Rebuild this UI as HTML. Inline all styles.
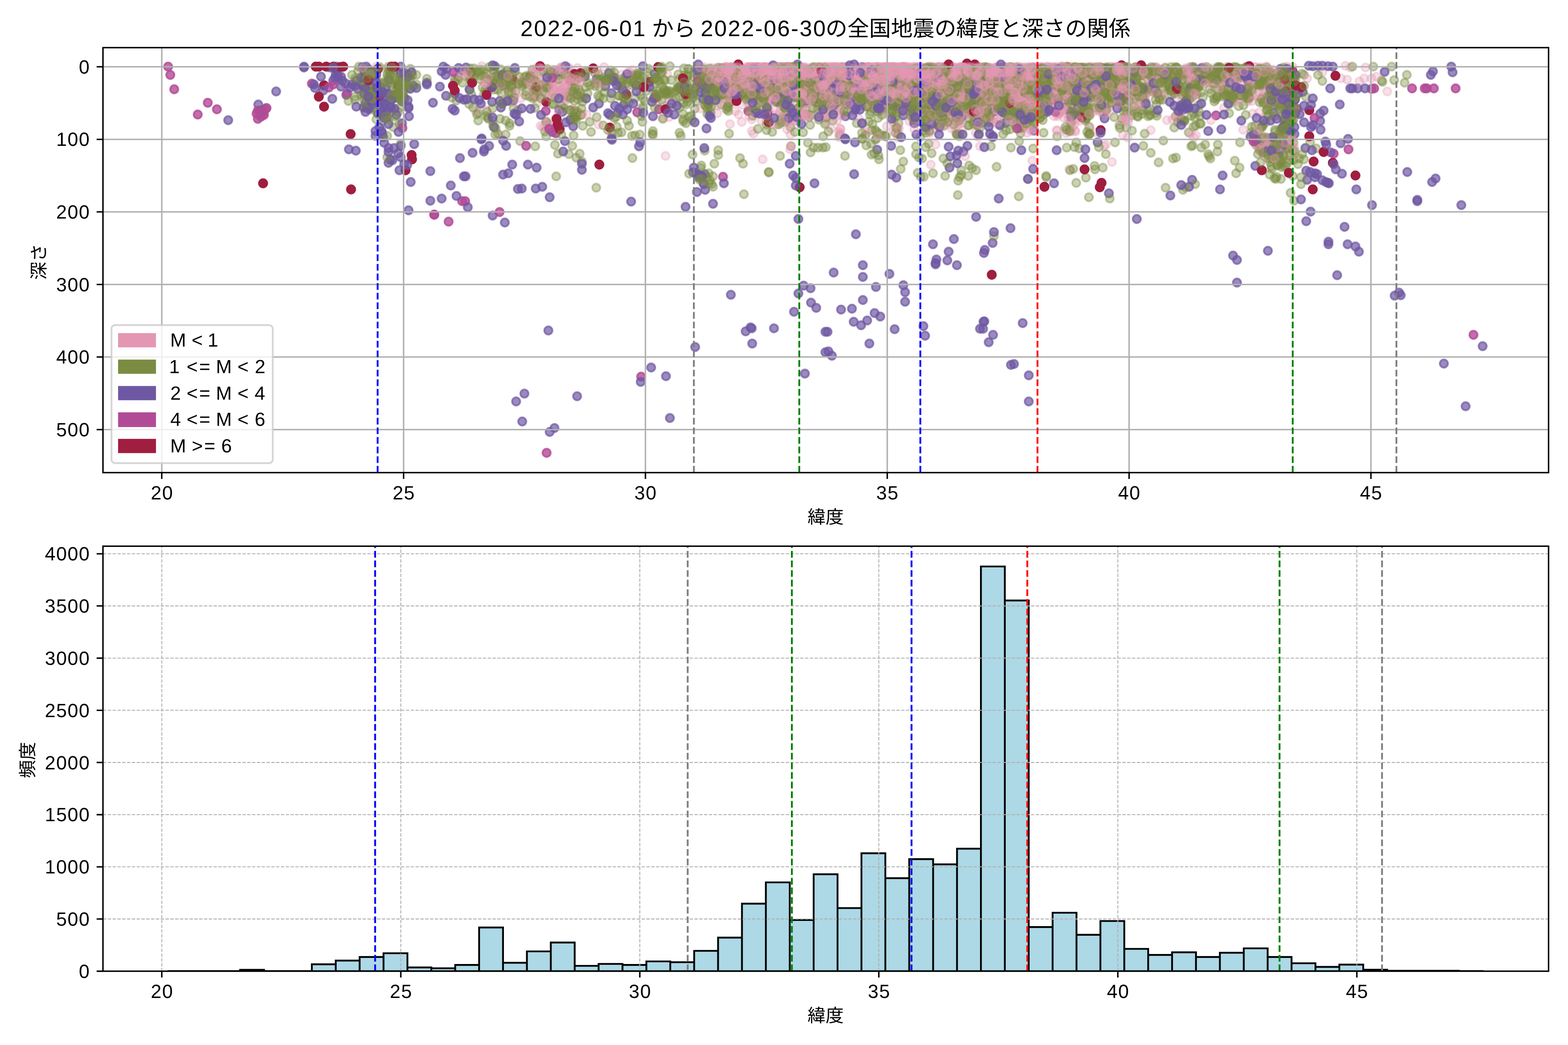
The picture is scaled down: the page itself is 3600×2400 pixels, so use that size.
<!DOCTYPE html>
<html><head><meta charset="utf-8"><title>plot</title>
<style>html,body{margin:0;padding:0;background:#fff}svg{display:block;will-change:transform}text{font-family:"Liberation Sans","Noto Sans CJK JP",sans-serif;fill:#000;text-rendering:geometricPrecision}</style></head><body>
<svg width="3600" height="2400" viewBox="0 0 3600 2400">
<rect width="3600" height="2400" fill="#fff"/>
<defs><clipPath id="c1"><rect x="236.4" y="109.4" width="3319.0" height="976.0500000000001"/></clipPath><clipPath id="c2"><rect x="236.4" y="1254.4" width="3319.0" height="976.0999999999999"/></clipPath></defs>
<g clip-path="url(#c1)">
<defs>
<marker id="kp" markerUnits="userSpaceOnUse" markerWidth="28" markerHeight="28" refX="14" refY="14"><circle cx="14" cy="14" r="9.3" fill="#e497b2" fill-opacity="0.3" stroke="#e497b2" stroke-opacity="0.3" stroke-width="4.17"/></marker>
<marker id="ko" markerUnits="userSpaceOnUse" markerWidth="28" markerHeight="28" refX="14" refY="14"><circle cx="14" cy="14" r="9.3" fill="#7b8c42" fill-opacity="0.4" stroke="#7b8c42" stroke-opacity="0.4" stroke-width="4.17"/></marker>
<marker id="ku" markerUnits="userSpaceOnUse" markerWidth="28" markerHeight="28" refX="14" refY="14"><circle cx="14" cy="14" r="9.3" fill="#6f58a3" fill-opacity="0.7" stroke="#6f58a3" stroke-opacity="0.7" stroke-width="4.17"/></marker>
<marker id="km" markerUnits="userSpaceOnUse" markerWidth="28" markerHeight="28" refX="14" refY="14"><circle cx="14" cy="14" r="9.3" fill="#b24b96" fill-opacity="0.8" stroke="#b24b96" stroke-opacity="0.8" stroke-width="4.17"/></marker>
<marker id="kc" markerUnits="userSpaceOnUse" markerWidth="28" markerHeight="28" refX="14" refY="14"><circle cx="14" cy="14" r="9.3" fill="#a01e40" fill-opacity="1.0" stroke="#a01e40" stroke-opacity="1.0" stroke-width="4.17"/></marker>
</defs>
<g fill="none" stroke="none">
<polyline points="2209,226 949,197 2742,184 1204,904 892,340 1044,254 3070,632 1131,495 1159,511 3296,410 2045,232 2721,236 2374,300 3288,418 3044,418 2882,321 1176,378 1981,636 2882,381 1910,817 1150,247 2260,738 3014,152 1284,252 2945,299 1370,181 1065,405 2490,168 2974,260 1024,220 1829,164 2178,337 1023,172 1673,206 1410,178 1069,405 1678,677 2871,314 1392,182 2321,838 862,301 1804,235 862,312 1044,215 1503,170 2265,168 2167,232 776,180 2687,449 1900,762 2304,225 2965,233 1123,335 1085,351" marker-start="url(#ku)" marker-mid="url(#ku)" marker-end="url(#ku)"/>
<polyline points="1752,222 1178,184 772,158 732,153 1836,430 1309,186 1254,234 2469,158 725,153" marker-start="url(#kc)" marker-mid="url(#kc)" marker-end="url(#kc)"/>
<polyline points="1816,207 1800,160 2052,281 2333,155 2746,311 2073,200 1896,209 2031,172 2255,182 2535,171 2082,164 1813,265 2376,176 2211,220 2433,194 2895,154 2605,212 1224,167 2000,171 2264,168 2441,161 2041,162 2275,181 2632,198 2073,195 2618,160 2134,306 2420,206 2376,214 1866,163 1066,175 2360,187 2312,163 1740,200 1428,171 2038,203 1747,166 1698,164 2477,167 2431,166 2103,189 1623,198 2233,226 2063,194 2169,234 2347,169 2443,160 1927,165 2502,154 1354,162 2160,176 1696,158 2566,154 1960,255 2015,164 2041,202 1952,228 2497,165 1864,208 2560,169 1811,154 2227,215 2454,199 1980,205 1734,188 1729,184 1927,204 2549,175 1885,215 2050,174 2000,163 2576,163 1999,171 2078,208 2025,180 2414,225 2108,160 2382,169 2312,210 1705,201 2224,215 2133,243 2256,163 2258,211 2591,208 2394,200 2305,268 2327,236 1952,226 2216,212 2279,245 2341,160 2160,229 2235,197 2033,166 2443,196 2482,167 2566,158 2298,172 2236,180 2350,182 1829,179 1981,174 2228,179 2104,157 1792,173 2427,183 1833,166 2361,191 2073,154 1832,154 1888,163 2385,188 1754,155 2603,179 1244,218 2372,195 2342,188 2444,217 2325,243 2956,336 2070,208 2287,206 1738,166 1886,162 2206,165 2233,229 1803,269 2015,154 2165,168 2090,191 2272,161 2039,181 2048,161 1858,161 2359,212 2299,194 1674,181 2485,219 1972,179 2083,158 1814,169 2609,183 2318,171 1863,184 2135,170 2359,195 2186,154 1751,205 1859,199 1795,166 1768,189 2366,156 2846,158 1745,207 2662,167 1956,158 1729,195 2079,231 2350,168 1324,180 1777,180 2183,172 1804,163 2483,180 1989,175 2091,163 2101,160 1861,176 2156,225 2047,165 1656,178 2289,184 2144,231 1952,165 2744,155 2896,168 2068,178 1994,171 2304,205 1757,180 2341,170 2525,160 2429,183 1720,163 2006,158 2585,204 2244,204 2029,202 2319,236 1938,163 2035,156 1968,155 1254,281 2032,171 2325,236 1785,164 1944,194 1742,173 2213,180 2121,159 1922,162 1876,202 2071,154 2383,157 2079,166 2558,165 1926,203 2278,223 1916,154 2789,202 1863,214 2090,179 1917,174 2281,182 2331,191 1756,163 2163,237 1758,185 1924,189 1782,162 2022,213 2590,202 1708,175 2515,162 2898,166 2628,214 2147,159 1730,184 2009,167 1717,164 1961,160 1796,232 2003,221 2246,220 1831,234 2418,217 2280,202 1904,154 1699,168 2027,164 2211,170 2423,166 2467,168 2212,252 1290,154 1886,161 2503,171 2050,179 2599,166 2131,257 2914,176 2052,155 1936,199 2140,202 1789,196 1723,190 2472,163 2383,180 2350,277 2321,164 2328,169 2120,216 1648,159 2966,208 1998,201 2148,192 2313,160 2205,190 2072,198 2261,263 1911,183 1968,171 1909,161 2179,179 2108,154 2180,225 1770,170 2311,175 2005,190 2379,223 1772,158 1334,224 1950,216 1663,156 2347,167 1765,204 1823,208 1946,199 1810,167 2240,305 2405,159 1960,211 1119,212 1922,192 1988,213 2648,162 2147,155 2428,164 2084,161 2186,178 2274,172 1894,162 2133,209 2615,164 2340,169 2651,159 1911,161 2325,212 2151,154 2522,171 1994,245 1942,179 2074,154 1698,179 2394,178 1932,177 1695,173 2228,197 2414,165 1852,175 2084,205 2475,180 2158,216 1892,165 1857,182 2072,244 2095,176 2222,203 2380,154 1169,214 2105,175 1819,162 2212,172 2335,210 2169,171 2456,207 1620,172 2251,180 2559,158 2054,189 2245,186 2015,172 2870,226 1778,173 1968,192 1957,242 1835,182 1744,154 2939,166 1811,219 2011,170 2426,214 1696,175 2921,220 2026,160 1787,159 2461,173 2329,162 2141,181 2021,181 1898,161 1929,210 1754,185 2288,192 2594,194 2010,170 2004,200 2591,172 2002,164 2145,167 1726,301 1665,179 1788,192 2144,156 2433,182 2274,170 2201,234 2192,275 2252,201 2369,178 1727,157 2439,159 1387,154 1821,209 1951,181 2806,191 1952,166 2252,203 2002,196 1815,169 1650,182 2371,166 2267,212 2004,161 2122,164 1801,187 1931,177 1911,226 2248,165 2145,166 1668,157 1888,183 2072,228 1881,172 1806,181 2069,177 2011,170 2087,209 1807,277 1718,200 2217,176 1791,259 2122,169 2180,209 1669,173 1841,267 2138,184 2120,168 2179,178 2193,243 1954,161 1626,188 1813,182 2026,156 2432,172 1642,176 1255,200 2016,172 2160,163 2097,182 2538,247 2259,166 2153,186 2058,216 2204,235 1685,157 2287,181 2123,251 2108,163 2335,167 2145,231 1810,155 2709,205 1968,167 2127,206 2095,275 1863,196 2053,185 1751,196 1853,166 2035,168 2013,159 1975,168 2115,175 2150,250 2008,196 2496,171 2556,170 1748,201 1864,167 2072,184 2078,196 1814,161 2022,171 1899,161 2247,164 2227,192 2102,168 2048,220 1764,170 1856,169 2426,158 2930,238 2042,168 2516,169 2134,250 2599,180 1730,155" marker-start="url(#kp)" marker-mid="url(#kp)" marker-end="url(#kp)"/>
<polyline points="2311,252 2082,210 1785,189 1909,190 1806,195 2500,166 2699,154 1842,188 2530,200 2905,185 2543,219 2229,203 2334,284 1981,214 2315,182 2579,175 2903,334 1219,174 1716,220 2304,254 2343,306 2211,184 1912,277 2426,173 2602,191 1867,232 1854,210 1903,204 2094,212 2039,163 2091,199 1848,228 2393,214 2092,203 2285,236 2244,182 2622,173 2958,336 2428,175 1451,172 1961,180 2461,186 2383,222 2425,178 2118,228 2202,233 2178,257 2475,220 2110,183 2305,195 2896,345 2395,166 844,167 1402,181 2390,176 2484,211 1616,169 2351,183 2794,221 2837,207 2607,175 2359,214 2386,163 2492,277 2420,171 2933,214 2676,188 2149,217 2505,192 2604,175 2220,213 2386,192 1135,158 1681,186 2350,194 2324,247 2257,237 1772,154 2265,266 1809,207 2091,213 2016,271 2154,246 1980,284 1325,256 2611,203 2799,163 842,222 2898,292 2386,250 2238,183 2729,304 2259,166 2179,241 2170,205 1809,220 835,217 1256,158 2145,202 2922,201 1936,192 2287,170 2052,228 2398,164 2532,195 2843,178 1908,191 2339,196 2935,173 1907,221 2025,163 1143,206 1515,188 1898,202 2012,204 2699,268 2731,209 1824,204 2928,240 1619,198 2558,166 2929,217 2472,235 1621,164 2410,155 2882,316 2994,172 2103,354 1773,163 2275,222 1204,177 2443,170 2642,179 1624,203 2477,187 1763,204 2744,196 2556,196 2181,236 2311,235 1971,236 2552,167 2247,182 1618,168 2158,155 2155,259 1824,154 2079,194 2075,162 1564,203 2874,203 2306,238 1926,181 2816,174 1216,222 2900,161 2606,159 2256,186 1044,180 2851,164 1594,206 1753,216 2005,189 2091,232 1804,217 2148,163 2159,201 2448,204 2123,169 2856,160 2341,218 1732,200 2466,193 2482,257 2430,165 2479,259 2703,156 2185,161 2894,294 1880,157 2844,210 1603,165 2043,193 1215,175 2371,206 1977,220 2494,272 2130,241 2242,204 2416,176 2557,201 2747,217 929,226 2120,170 2482,180 2941,370 2170,245 2447,173 1486,165 2399,254 900,158 2590,217 2242,170 2459,166 2409,189 2308,260 1166,171 2237,171 1945,208 2475,180 2591,169 2015,160 2006,186 2250,252 2451,197 2815,159 1727,215 1831,204 1791,161 2036,197 1318,214 1684,194 2212,197 2159,252 2400,163 2073,199 2478,219 1659,208 2335,154 2921,175 2865,225 2949,279 1632,184 1886,216 2474,155 2167,195 1686,192 2053,240 1151,192 2150,246 2940,179 2285,218 1938,169 2147,190 2551,186 1747,183 2257,262 2171,185 2271,281 1844,188 2363,218 1878,229 1179,249 1992,212 2256,282 2587,217 1937,204 2394,189 2218,211 2859,156 2463,164 2864,224 2722,242 2131,244 2130,246 2309,166 2936,217 1804,181 2286,248 2221,171 2740,188 1774,172 2182,228 2521,167 2146,178 2628,163 1860,287 1906,196 1595,250 2809,212 1898,217 2289,167 2552,186 2352,180 2154,157 2674,175 2665,164 1936,211 1677,221 1571,207 2297,199 1721,184 2112,178 2289,170 2926,210 1816,187 2282,197 2175,235 2290,169 1626,238 2930,324 2053,237 2924,210 2538,194 2013,212 896,183 2888,328 2387,252" marker-start="url(#ko)" marker-mid="url(#ko)" marker-end="url(#ko)"/>
<polyline points="3096,343 400,205" marker-start="url(#km)" marker-mid="url(#km)" marker-end="url(#km)"/>
<polyline points="1068,462 386,153 2978,250 716,192 454,263" marker-start="url(#km)" marker-mid="url(#km)" marker-end="url(#km)"/>
<polyline points="2961,164 2383,188 2597,163 914,196 1511,154 931,391 1491,188 1082,166" marker-start="url(#kc)" marker-mid="url(#kc)" marker-end="url(#kc)"/>
<polyline points="2420,267 2449,243 2038,196 2163,164 2350,161 2138,211 2266,247 2013,178 2022,210 2245,171 1734,165 2138,162 1733,175 2189,192 2066,193 2279,225 2304,173 2102,167 2582,271 1836,159 2256,243 2166,273 2097,180 1301,159 1917,182 2366,212 2003,192 1738,154 1809,216 1897,282 2039,231 2137,297 2500,197 2116,195 2903,217 1821,194 2596,162 2069,154 2202,178 2720,157 1821,167 2655,154 2175,175 1751,180 2097,165 1821,215 1760,161 1993,172 2052,216 2081,171 2098,180 1734,186 1106,152 2046,210 2306,182 2318,173 2134,203 2880,154 2162,174 2306,219 1829,173 1785,161 2183,189 2458,198 2478,192 2157,295 1809,162 1842,160 2021,183 1963,163 1783,215 2187,215 2015,180 2041,154 2572,165 2286,184 2331,204 2227,169 2340,295 2294,180 1906,201 2280,161 2823,206 1879,168 1915,213 1945,161 1736,194 2245,201 1942,205 2064,183 1917,254 2669,163 1290,221 1840,235 2896,186 2375,228 1981,157 1794,154 1729,213 1696,183 1260,202 2124,257 2595,178 1726,274 2121,165 2573,222 2695,161 1899,154 2273,191 2508,205 1784,176 2383,272 1831,207 2019,162 1686,189 1319,271 1820,156 2400,159 2351,157 2396,223 2797,157 2027,200 2112,175 2017,175 2141,188 2357,194 2066,204 1754,224 2187,183 1275,272 1932,155 1969,173 2006,209 2289,234 2351,159 2194,158 1949,219 2077,186 2361,210 2306,226 864,153 2219,202 1285,198 2195,279 1326,156 2421,230 2372,173 1168,203 2115,175 2186,184 1951,187 1536,269 1993,171 2889,330 2424,175 2301,168 2005,169 2181,228 2338,170 2856,223 1570,214 2597,181 1743,211 2955,321 2303,229 2490,166 2262,225 2331,192 2489,219 2344,230 2136,207 2584,183 2351,155 1955,159 2074,183 1858,166 2018,173 2274,262 1961,210 2011,193 2457,161 2866,193 2358,228 2131,214 2352,201 2140,199 2060,170 2273,166 2314,177 2048,182 2106,245 2122,249 1745,172 1919,177 2109,155 1801,176 1831,205 2460,165 2076,202 2553,372 2414,155 1929,265 2274,246 2022,248 2007,164 2029,178 2516,168 2365,236 2100,166 2250,154 2442,155 2141,171 2522,188 2350,161 1970,171 2368,207 2216,252 2518,252 2835,172 1700,161 2417,163 1999,161 1959,173 1841,217 2323,164 2075,154 2275,168 2134,175 2151,164 2466,206 2047,242 2457,162 1773,212 2199,230 2418,179 2847,158 2011,158 2158,156 1853,183 1810,208 2254,176 2319,210 2128,165 2117,164 2254,203 2279,212 2050,154 1726,166 2572,226 2245,163 2061,172 2335,231 2263,189 2339,202 2535,336 2084,219 1806,162 1899,168 2457,200 2319,216 2097,271 2150,181 2743,162 2495,156 1874,178 1759,277 2804,175 1888,177 1946,163 2034,169 1165,204 1947,175 1747,164 2000,180 2355,184 2321,246 1846,156 2339,199 2469,302 1941,188 1903,192 2177,223 1638,169 1699,199 1854,173 1753,158 2238,182 1256,194 2650,164 1793,182 2215,196 1528,358 2353,176 2263,156 1863,159 1661,193 2811,181 1690,166 2065,215 2952,165 2246,208 1937,169 2435,159 2000,164 1815,186 2810,248 1939,249 2245,314 1878,185 1920,212 2392,154 2444,173 2681,179 1944,178 1730,174 2519,213 2785,180 2389,163 1737,160 1803,238 2022,202 2076,196 2353,169 1963,164 2346,195 1897,163 2117,155 1957,166 2321,194 2336,161 1785,196 1767,186 1755,159 1796,197 2110,154 2245,179 1700,166 2151,243 2130,211 2078,213 2349,193 1895,271 2447,162 2864,233 2078,223 1799,166 1709,164 2638,166 1911,268 2228,161 2845,179 2335,212 1833,157 2442,155 2400,159 2565,154 1982,210 2355,164 1871,158 2313,157 2328,179 1901,178 2114,215 1869,177 1297,220 1848,252 1273,160 1248,210 2225,168 2599,201 2289,223 2034,164 2059,161 2195,186 1782,155 2217,241 1935,154 2109,204 1700,178 2036,229 1963,207 1798,176 2359,169 1117,253 2514,160 2465,174 2288,202 1323,196 1863,219 2001,172 1755,161 1927,158 1988,200 1942,157 2226,167 2327,211 2108,172 2307,175 2347,208 2088,191 2265,203 1303,184 2312,181 2125,170 1869,159 1924,172 2349,171 1932,194 2095,235 2532,173 1775,199 1738,183 1228,220 1971,202 1789,183 2232,178 2288,159 2041,167 2541,234 2189,236 1311,222 1730,307 1196,226 2697,196 2888,167 2088,214 2569,154 2192,180 1945,208 1803,195 2192,198 2012,154 2917,163 1826,173 2265,219 1762,204 2431,163 2801,186 1730,176 2074,176 2450,188 1733,190 2340,183 2025,174 1684,189 2102,189" marker-start="url(#kp)" marker-mid="url(#kp)" marker-end="url(#kp)"/>
<polyline points="1983,203 2145,233 2994,281 1325,910 1153,238 2710,247 1693,188 3067,389 3117,203 2164,236 1230,433 2958,246 1941,267 2236,204 2831,587 936,171 3031,261 1966,193 1618,400 2400,180 2405,205 2169,235 905,340 2180,385 2309,282 1136,152 863,225 1018,153 3009,486 2991,211 928,168 2259,188 2848,173 3005,151 1155,401 3039,254 1404,214 1619,436 1070,155 2405,239 758,155 1861,193 2187,226 1131,150 2210,198 1162,335 850,248 1780,199 1178,231 1476,152 873,200 1801,223 852,243 1147,232 2293,456 2352,234 2958,238 2279,558 1730,180 938,245 2865,215 1106,318 1813,213 2935,317" marker-start="url(#ku)" marker-mid="url(#ku)" marker-end="url(#ku)"/>
<polyline points="2561,157 1826,175 2154,255 1766,203 2355,198 2607,155 2607,184 1896,338 859,167 2146,202 2961,186 2503,171 1898,220 2908,316 2649,212 2399,156 1370,269 1121,183 2475,240 1857,180 1795,194 1630,181 2502,200 1818,163 2618,169 2501,187 2811,204 2700,171 920,330 2290,226 2281,191 2119,213 2195,244 2810,179 2018,212 2064,237 2040,197 2572,236 2434,206 1691,206 2338,258 2584,154 2169,229 1582,268 2058,230 1653,221 815,229 2558,199 2650,198 2110,362 2138,157 1082,185 2360,174 2378,198 2327,248 2296,226 2103,336 2221,208 1966,192 2861,154 1810,228 2642,351 2345,186 2473,203 1898,269 1677,190 2385,185 2927,298 2953,242 1406,182 1959,199 2828,225 2741,201 2932,380 2295,227 2483,159 2121,245 870,207 2183,203 1138,294 1905,179 1983,202 1998,171 1354,280 2134,181 2013,215 2027,194 2963,314 2591,202 1824,220 2578,167 2593,205 2050,214 1994,154 1880,275 1961,193 2366,192 1327,228 2182,213 1615,160 2432,208 1991,180 2927,344 2684,164 2032,313 1967,183 2008,205 2337,177 2356,217 2263,211 2085,214 2134,178 1973,213 1805,166 2283,232 2350,182 2483,180 2081,218 1317,255 2054,201 2566,204 1913,213 1847,209 1921,174 2214,194 1170,283 2566,169 2000,207 1151,214 2119,237 2661,225 2032,179 2249,197 2601,198 2745,289 2389,171 2413,208 1077,239 2489,174 2953,285 2107,189 2225,272 1945,224 2234,193 1899,192 2945,177 1504,218 2385,213 2512,203 2401,182 2376,251 1890,313 1760,206 2055,218 1297,218 2382,200 2438,166 1367,193 2937,211 1647,187 2430,158 2247,246 2106,269 1580,158 2881,290 1737,196 1579,173 2900,234 1795,168 1827,203 1242,166 1911,214 1866,191 2731,193 2238,157 1747,197 2194,226 2118,170 2212,235 2242,252 1973,188 1602,185 2235,258 913,190 2504,176 2520,195 1320,254 1798,198 1895,208 2743,270 2653,209 2063,283 1613,169 2274,166 2214,203 2739,154 2690,209 1928,310 2002,202 2480,172 2347,192 1734,180 2225,380 2207,187 2003,201 2012,217 2942,384 1637,405 2091,234 2306,199 1910,167 2946,187 928,228 2564,158 1557,201 2351,174 1475,246 2247,250 2049,179 2055,240 1318,175 2107,194 2541,201 2248,247 2237,225 2253,215 1621,244 1746,208 2065,232 2330,174 2559,166 1755,188 2534,216 2189,241 2190,232 1919,191 2860,162 2372,341 2353,202 2606,225 1799,199 1991,194 2140,240 2237,269 1928,214 2725,219 2338,250 1631,180 2274,166 1997,225 2448,187 1427,198 928,225 2168,212 1131,184 1798,196 2064,175 1866,211 1774,192 2050,213 2509,186 2461,264 2348,224 1897,210 2166,162 2851,167 1820,174 1953,180 1676,199 2162,228 2229,225 2100,218 2254,180 2338,227 2611,174 1894,285 2905,170 1781,217 2056,195 2855,242 2064,222 2317,230 1979,177 1872,193 2037,212 1322,268 2339,198 2890,326 2010,194 1974,176 2154,166 2341,294 2570,176 1988,160 1162,196 2001,231 2583,224 2564,196 1444,289 2255,200 1824,186 2120,195 1584,204 2712,245 1192,176 1262,172 2363,274 1169,212 2156,231 2830,155 1062,190 1559,204 2621,164 2178,242 1794,171 2322,194 2442,160 2534,187 1918,196 2402,178 2560,327 2934,233 1799,176 1444,235 2952,381 1506,180 2012,318 2132,237 2321,339" marker-start="url(#ko)" marker-mid="url(#ko)" marker-end="url(#ko)"/>
<polyline points="1061,462 391,172 605,259 477,236 3062,353 3383,769" marker-start="url(#km)" marker-mid="url(#km)" marker-end="url(#km)"/>
<polyline points="2230,210 2494,203 920,361 2412,206 1375,238 1974,168 994,236 1960,739 818,185 524,276 1751,184 2939,238 795,218 906,225 2167,222 2873,177 2297,189 843,170 1432,241 2485,207 980,190 2253,178 2065,181 892,183 2961,228 2105,190 2128,292 2490,363 1726,226 2481,159 2626,158 771,169 2297,219 3315,835 2345,345 2367,236 1697,211 1449,463 1954,167 1968,193 2341,233 2952,191 836,215 2257,250 1813,376 2478,244 878,307 1343,176 2258,739 923,233 1198,433 1440,251 2242,209 1398,168 3212,672 1602,400 888,270 2422,213 878,257 3332,153 1105,320 1712,761 841,153 2014,344" marker-start="url(#ku)" marker-mid="url(#ku)" marker-end="url(#ku)"/>
<polyline points="2427,313 2004,208 2159,243 2031,189 2548,213 2826,157 2180,188 2070,175 1673,157 1783,209 2887,316 2379,189 1699,363 2792,191 2188,246 2118,200 1184,209 1697,205 2277,229 2321,255 2387,190 1174,213 2108,191 2369,215 2317,170 2737,168 2098,206 1724,216 858,163 2153,198 1726,205 2260,165 2115,262 2157,236 2940,377 2215,210 2279,165 2202,203 1614,420 2306,224 2002,176 2324,182 1676,237 857,201 2933,379 2007,207 2259,199 2053,193 1699,167 2182,234 1598,233 1155,176 2844,244 2095,215 2363,161 2375,252 2667,175 2176,257 2058,208 1836,217 1862,202 2365,286 1080,182 2284,223 2181,222 2019,186 2450,154 2128,257 2573,154 2902,196 1695,199 2084,230 2370,190 2379,253 1560,247 2389,200 2353,164 1747,212 2203,313 1615,170 1871,194 1688,208 2265,176 1936,177 2963,267 1940,165 2735,154 2503,165 2137,200 2585,194 1691,195 2767,332 2442,166 1938,190 2607,155 2370,208 1890,215 2175,375 2961,179 2471,191 2159,288 2149,234 2115,186 2360,205 2211,239 2054,219 2834,178 2286,172 2548,204 2154,156 2592,190 2621,201 2010,181 921,230 1869,198 2774,354 2112,218 2188,272 870,198 2856,173 2057,243 1949,183 2130,154 2170,404 2398,212 2468,176 2170,192 1277,405 2899,352 2040,240 1048,231 2418,176 2207,402 1647,170 1627,239 1655,200 2025,211 1751,191 1274,333 2142,187 1979,219 2109,241 2700,158 1973,170 2951,179 1608,172 1844,199 2651,155 2306,214 1176,170 1754,154 2351,246 2377,182 1627,398 1444,196 1807,220 1626,242 837,174 2915,237 1595,202 1699,203 1823,196 1820,190 2889,172 2671,323 1718,185 2009,193 1131,277 2185,205 1821,206 2323,217 1824,223 1117,169 2714,219 2053,210 2252,282 1163,163 2236,172 2796,160 1939,211 2193,165 2815,170 2355,216 1474,193 1292,212 1879,194 2419,165 2053,184 2339,451 1625,180 2685,201 1904,204 1830,196 2693,364 1848,238 2230,214 2706,195 2362,195 2170,239 2069,176 2228,260 2271,156 1590,355 2471,420 2052,226 1718,209 2125,305 2472,173 917,247 2899,158 2350,196 2454,179 1747,187 2513,381 2151,169 2490,273 2276,229 2579,195 2149,194 1153,192 1268,168 2255,240 2796,154 2471,225 2013,303 1569,237 2148,230 1170,232 2134,236 2105,220 927,221 1660,168 1088,157 2596,195 2539,167 2405,181 2548,159 1577,218 2248,212 2217,236 923,227 903,201 1180,192 2566,158 2727,215 1729,171 2122,244 873,199 1815,292 1695,173 2427,209 2123,206 2413,175 1622,173 1606,165 2808,222 2696,293 2246,255 1252,189 2482,210 1671,247 2434,189 2184,241 1644,218 2551,198 3201,184 2740,291 1111,217 2267,181 1693,197 2970,275 1717,183 2143,260 2117,364 2232,252 2376,197 2254,193 824,153 1515,161 2218,198 2919,341 1791,172 2253,181 2044,181 1913,187 1312,202 2212,221 1994,155 1906,184 1935,217 1989,219 2407,249 2786,192 1787,230 1635,168 1795,269 2209,232 2952,232 1935,193 2502,200 2064,169 2271,190 2355,241 1765,230 1844,304 2951,338 2318,238 2647,171 2098,187 2891,158 2147,217 2941,411 1752,187 2431,260" marker-start="url(#ko)" marker-mid="url(#ko)" marker-end="url(#ko)"/>
<polyline points="3112,403 1765,178 2366,204" marker-start="url(#kc)" marker-mid="url(#kc)" marker-end="url(#kc)"/>
<polyline points="2119,221 2531,155 1893,153 2851,221 2484,173 2465,162 1786,154 1724,185 1906,164 2122,167 2168,173 1984,158 2242,249 1819,154 2185,295 2136,154 2474,201 2093,249 1802,155 2325,272 2195,176 2337,169 1698,179 2508,170 2293,169 2032,223 1291,207 2410,177 2267,228 1646,166 2337,163 2314,167 1869,251 1895,164 2034,242 2098,236 2016,154 1757,189 1233,155 2120,235 1808,206 2120,168 2312,175 1865,192 1796,199 1939,168 2281,186 2308,160 1718,188 1953,198 1765,171 2337,224 2361,183 2194,210 2161,179 1674,199 1715,205 2020,202 2024,165 2533,229 2606,167 1835,171 2067,184 2144,165 2088,189 2172,187 2015,172 2563,211 2339,264 1951,207 2021,216 1767,171 2166,178 2047,154 2464,167 2393,195 1788,154 1902,189 2007,169 2765,189 1674,202 1964,200 1843,263 1825,209 2083,238 2109,173 2329,175 2037,154 2165,255 2483,202 2202,285 1705,159 1756,189 2001,181 2762,184 2128,206 2078,165 2132,198 2042,168 2069,183 1699,168 2584,168 1289,204 2196,213 1934,183 2025,161 2867,183 2181,243 2333,210 2237,187 2300,174 1251,291 2437,255 2798,173 1902,222 2023,219 2220,235 1926,222 2053,189 2308,200 2099,177 1992,154 1941,209 2354,202 2059,171 2224,180 1809,188 2297,205 1843,179 2437,224 1860,170 1939,189 2004,176 1289,163 2155,156 1780,172 1814,221 2088,170 1910,154 2467,224 2124,171 2047,159 1782,170 2023,187 2291,178 2589,154 2360,216 2032,179 2328,204 2894,328 2250,160 2830,221 2080,154 2299,209 1990,186 1763,252 2155,216 2541,174 2086,195 1841,225 1693,182 1812,193 2098,204 1278,210 1800,170 1793,162 1682,168 1806,170 1785,218 2322,212 2459,165 2202,180 2444,171 2248,159 2055,203 2189,174 2590,191 1842,251 2373,239 2381,246 2041,155 1925,193 2092,166 2477,265 2077,215 1805,162 2213,169 2199,198 2378,162 2221,202 1976,226 1852,188 1999,201 2055,168 1913,178 2506,178 2081,187 2448,306 1213,190 2561,194 2011,195 1958,197 2959,177 1719,211 2361,212 2191,239 2225,168 2074,160 1783,171 2446,167 2206,178 2143,172 1737,161 1987,155 1726,176 2427,185 2164,237 2243,209 2706,169 2316,171 2421,173 1898,174 2020,166 2627,164 1650,197 1930,297 2285,210 2384,222 2164,160 1928,228 2184,250 2260,175 2052,228 1947,154 1683,182 1860,216 1976,158 2477,234 2051,212 2136,167 2227,243 2246,160 1706,163 2533,176 1917,168 2220,181 1921,162 2327,161 2075,169 2267,180 1886,173 2445,167 2016,166 2011,165 1825,154 2112,171 2050,193 2144,164 1674,167 2088,192 2167,180 2253,155 2014,173 2271,175 2373,231 2383,230 1808,208 2953,231 2321,156 1715,167 2555,209 1813,238 2087,189 1640,173 1785,160 1808,185 1763,168 2281,280 1752,198 2453,156 1705,170 2459,162 1772,164 1995,196 2079,167 2166,180 2536,169 1898,163 1804,156 2035,188 1875,207 1852,171 2113,226 2269,170 2262,181 1782,178 2164,189 2349,181 2227,195 2440,162 2567,171 1773,219 1709,210 1842,217 2011,176 1768,160 2546,179 2958,281 1964,174 1745,156 1943,158 2336,274 1836,189 2278,176 2079,228 2370,159 1706,200 1639,164 2004,177 2905,267 1936,162 1782,198 1756,177 1259,286 2338,171 2632,161 1875,205 2054,170 2118,177 1961,223 1725,202 2374,186 2354,169 2708,270 2904,210 2018,163 1929,202 3121,187 1635,161 1793,154 2588,154 2055,161 1925,176 1734,164 2223,185 2293,167 2145,169 2728,178 2486,164 2587,260 2281,214 2263,216 2319,164 2095,181 2343,185 1294,240 2075,164 2881,310 2151,172 2494,155 1934,165 1662,176 1739,176 2134,191 1967,170 2007,185 2005,168 1798,168 1890,162 2297,214 2195,211 2208,171 1752,166 2029,164 1750,163 2360,201 1942,173 2023,213 1748,170 1734,168 1966,194 2488,221 2035,188 1942,206 1884,219 1746,222 1898,174 2468,220 2564,180 2296,236 1893,176 2107,190 1626,179 1752,224 1985,155 2266,203 2518,171 1868,172 1717,163 2463,190 2369,244 2036,154 1987,246 1812,188 1679,189 2123,177 2045,269 1888,169 1996,217 2370,155 1933,200 2340,174 2033,154 1903,173 2012,226 2535,173 1787,200 2000,165 2517,304 1235,215 1717,154 2484,161 2190,271 1769,212 2026,227 1966,154 2758,169 2289,207 2090,172 885,255 2308,203 2133,172 1779,159 2765,154 1802,164 2595,208 2280,179 2605,261 2319,163 2025,198 2106,248 1714,154 2004,169 2458,154 2239,167 2227,192 1776,162 2297,177 1754,165 2347,212 2300,154 1756,166 2303,212 1630,168 2237,185 2238,169 2724,248 2033,154 1670,188 1784,173 1918,247 2416,179 2465,275 2268,244 2148,255" marker-start="url(#kp)" marker-mid="url(#kp)" marker-end="url(#kp)"/>
<polyline points="1400,293 2575,150 2905,172 2918,193 806,435 1362,157" marker-start="url(#kc)" marker-mid="url(#kc)" marker-end="url(#kc)"/>
<polyline points="1970,214 2383,223 1791,155 1732,169 1903,164 2289,178 2155,240 1820,160 1840,165 1905,166 3149,180 1903,167 2437,193 2184,180 1757,167 2228,173 2103,210 2076,166 2314,173 2229,155 1899,174 2128,196 1735,157 2046,181 1892,169 1720,169 1731,160 1324,184 2268,174 1922,197 2232,211 1679,154 2107,259 1916,196 1786,162 2745,169 2578,162 2308,179 1846,165 2596,257 2883,154 1735,168 2417,170 1979,200 1657,176 2028,168 1669,164 2536,160 2480,166 2288,155 1937,163 1310,222 2349,188 1929,166 2314,160 2483,167 2120,251 2006,179 1813,193 2470,162 1940,163 2101,210 2762,187 2066,225 2208,154 1736,155 2073,199 1996,171 2106,186 2604,181 2639,178 2071,166 2068,178 1923,160 2291,175 2031,167 2948,175 1954,161 1700,212 1789,161 2210,188 2217,189 2353,168 2844,232 1826,274 1696,263 1990,166 2397,181 2319,250 2592,190 1313,224 2306,212 2115,177 2055,179 1711,164 2955,302 2206,155 1959,173 2115,217 1234,236 1874,162 1665,208 2359,158 1994,172 1299,231 1649,182 1936,159 2348,177 1945,177 1978,171 2043,209 1821,156 2140,173 2186,178 2015,180 1809,161 2704,161 1805,207 1819,154 1762,230 2136,175 1940,183 1648,166 1918,175 1985,205 2130,256 2037,235 2208,220 2247,171 1767,189 1953,156 1870,189 2860,161 1821,164 2679,276 1791,194 2113,158 2192,209 1932,175 1898,230 1862,199 2022,163 2073,185 2735,197 2195,306 2007,166 1729,156 2332,243 2152,164 1908,197 2109,167 1851,158 1815,161 2138,195 2337,237 1687,165 2049,172 2943,328 1997,160 2440,162 2088,177 1748,171 2602,174 2099,159 2307,234 2445,248 2291,286 1698,156 1688,255 2812,182 2061,163 2044,175 1831,161 2437,210 1829,154 3135,155 2040,178 2125,187 2089,166 2020,156 2121,174 1773,158 2564,193 2073,154 1698,184 2448,160 2147,204 2019,183 2125,157 906,155 2170,170 2036,200 1305,156 1730,163 1991,205 1837,165 2132,194 1812,166 1706,198 2053,207 2348,161 2461,157 1769,188 2667,171 1959,175 2148,199 1737,155 2009,220 2121,160 2224,164 2056,168 1966,171 2106,178 2057,160 2209,162 1823,176 2890,226 2219,182 1667,160 1734,196 2055,155 2562,213 2692,169 1319,184 2114,170 2282,267 1771,174 1720,201 1738,163 1731,155 2261,166 2125,170 2443,164 1844,180 1667,178 2364,206 2103,154 2120,164 1898,193 1889,180 1908,295 1804,211 1759,202 1898,235 2191,160 2928,321 2230,164 2010,163 1930,168 2362,170 1944,156 2082,165 2478,166 2603,224 1738,185 1699,155 2444,160 2274,189 2220,171 2568,237 1673,173 2642,299 1724,195 1923,198 2122,173 2170,183 1807,174 1967,164 1813,190 2022,216 1840,170 1990,160 2143,190 1241,289 2333,157 2299,163 2267,226 1918,167 2468,161 2273,210 2238,172 1303,184 2217,156 1980,165 2586,239 1981,213 2301,184 2136,191 1825,164 2390,155 2012,174 1732,210 2104,208 2168,188 2546,167 2773,178 2131,177 2363,171 2387,167 2439,201 2359,216 1790,175 2200,197 1907,154 2165,256 2401,243 2080,173 2228,162 2247,177 2220,196 2054,179 2155,175 2463,233 2284,183 1756,176 2359,179 2257,234 2173,159 2510,158 1948,220 2436,221 2930,213 2654,163 1521,242 1786,154 1942,219 2797,169 3132,180 2104,216 1853,173 2237,196 2158,209 2290,172 2273,185 2237,172 2341,200 1754,181 1741,164 2021,173 2282,189 2416,170 2735,169 1900,165 1824,163 1679,203 1723,197 1847,191 2106,166 2238,180 2426,164 1780,154 2557,209 1896,211 1829,204 2230,181 2178,201 2269,169 1864,169 2007,163 2037,157 2306,158 1705,173 2964,335 1854,168 2449,176 2017,158 2273,229 1958,156 2915,183 2361,156 2123,166 2226,198 1792,251 2001,203 2020,212 2334,190 2414,206 2143,221 2562,162 1973,165 2276,177 2589,316 1696,190 1907,205 2002,246 2213,160 2211,180 1614,175 1892,172 2028,157 1671,175 2155,215 2241,213 2066,156 2414,160 2304,162 2269,256 1732,174 2436,162 1906,239 2391,196 2255,168 2563,155 1649,166 2797,179 2063,169 2935,191 2167,209 1890,171 2051,205 2207,226 2001,205 2254,156 1725,211 2017,176 2035,185 1798,162 2289,154 2573,210 1701,163 3185,210 2313,155 2114,209 1969,168 2213,168 2354,171 2033,203 1938,220 2607,154 1830,219 2304,157 2216,243 1988,175 2114,159 2300,181 2239,171 2138,154 2454,154" marker-start="url(#kp)" marker-mid="url(#kp)" marker-end="url(#kp)"/>
<polyline points="2233,159 2395,177 2419,215 914,257 2558,269 2149,285 2530,160 1765,156 1152,196 2290,194 2939,325 2129,279 2216,243 1706,190 2292,241 837,175 2243,194 942,180 1898,159 2135,235 2095,236 2628,233 1643,220 2073,181 2134,171 918,182 1745,226 2451,186 1499,200 1653,217 2313,221 2196,177 1875,227 1451,312 2701,155 2251,239 1655,218 2007,194 1089,177 1622,200 1536,208 2366,224 2611,267 1765,196 2758,212 2015,217 1808,276 2235,196 2968,229 2482,156 2660,373 2366,180 2768,179 2502,265 2299,164 2231,166 2051,210 1725,178 2905,171 1820,214 1226,205 2199,448 2948,321 1808,199 2509,194 2755,266 2216,230 2445,178 2484,164 2517,212 1888,196 2450,218 2413,193 1337,234 2639,199 2362,205 1676,164 2513,223 2798,162 2522,171 2489,193 2165,271 2373,259 1161,277 1530,214 2173,204 1147,191 2121,187 1323,362 2051,221 2251,168 2009,180 2278,189 2834,154 2124,191 1992,244 2830,219 2463,173 2253,166 889,178 2026,209 2971,461 849,234 2592,202 2747,184 2895,174 2380,168 2217,216 1475,175 1908,220 2203,307 2460,182 2475,184 2520,192 2364,215 1670,190 2561,183 2741,212 2474,156 1903,217 1727,163 2907,163 1660,179 2270,217 2176,209 1786,162 1804,199 2802,163 2006,195 2461,159 2451,164 1774,160 1623,407 1885,226 2041,231 2060,202 2167,194 2781,161 2940,346 2400,172 2251,183 1655,205 2788,169 2231,189 2445,219 2131,245 1462,174 2282,181 2014,162 2074,223 1861,350 2057,266 2506,157 2130,207 1254,313 2170,214 2488,164 1173,175 1698,191 2482,206 2358,211 2945,303 2237,201 2939,373 1933,154 1827,223 2143,231 2383,265 1665,204 1324,267 1954,194 2566,171 2989,169 1612,163 2674,200 2000,330 1882,187 1217,181 2091,230 2330,219 1901,175 2800,172 2193,167 1303,222 1806,201 1505,221 2187,256 2510,168 2149,254 2293,212 1810,207 2551,186 1668,221 2453,217 2708,255 2279,207 2432,186 2539,159 933,197 897,192 2246,197 1833,187 1951,192 2559,167 2427,169 2110,207 2891,158 2550,188 2263,163 1933,208 2111,221 1899,173 2200,217 1814,211 2471,327 924,178 2081,166 2081,195 2328,245 833,196 2010,202 1624,262 2339,233 2469,179 1457,226 1933,234 2599,254 2713,212 867,212 2250,201 1997,263 2401,202 1997,206 2152,209 2438,191 2052,231 2563,219 2332,264 2243,207 2224,201 2645,163 2320,201 1989,334 1809,194 2011,160 2947,382 2328,249 1943,227 1096,166 2268,255 909,217 2948,326 2045,235 1818,154 1774,164 2402,180 1910,221 2555,172 1815,204 2347,294 2001,185 2001,355 1777,202 1160,176 2431,170 1289,243 2770,160 2398,203 2573,186 2246,154 2455,180 2343,169 2604,192 2149,266 2121,185 1900,173 2527,195 2417,169 2116,217 2601,165 2335,174 2719,279 2446,204 914,215 2184,198 2421,165 1952,211 1791,223 1842,200 2147,189 2552,236 1740,296 2124,276 1830,222 2921,189 2346,216 2243,166 2341,227 1890,186 2234,221 1816,336 2372,164 1967,213 1954,178 2562,171 2043,200 2617,221 2460,177 2291,202 1580,211 2581,190 1200,198 2203,407 2157,219 2212,221 1499,301 2314,188 2382,194 2980,377 2097,166 2680,165 2310,187 1648,206 2438,153 2376,186 2356,205 1932,174 2951,174 2326,240 1078,204 1484,209 2682,188 1779,203 1834,200" marker-start="url(#ko)" marker-mid="url(#ko)" marker-end="url(#ko)"/>
<polyline points="2303,222 2008,719 882,225 3179,165 864,171 923,283 3019,398 763,227 772,153 3081,399 1614,227 2197,609 1827,409 3060,153 1454,238 1941,320 1167,398 2240,233 917,391 1739,155 2300,219 2030,168 2182,359 1797,200 1291,257 3365,933 2924,259 2021,727 839,237 2987,458 801,343 2248,191 3049,420 3055,350 1694,194 1718,165 2328,836 837,163 2435,179 843,243 850,211 1827,358 1316,290 2294,161 2250,755 2162,239 2940,158 1268,303 3355,471 2241,214 2279,315 1742,198 3114,435 1262,453 2254,182 904,219 2074,265 1789,222 1850,232 1872,174 1199,968 1732,195 1134,292 2074,655 1430,263 2375,218 1616,423 1501,226 2946,204 1862,187 1596,797" marker-start="url(#ku)" marker-mid="url(#ku)" marker-end="url(#ku)"/>
<polyline points="1513,251 1218,176 3342,203" marker-start="url(#km)" marker-mid="url(#km)" marker-end="url(#km)"/>
<polyline points="2792,265 1147,487 603,254 1718,255" marker-start="url(#km)" marker-mid="url(#km)" marker-end="url(#km)"/>
<polyline points="2072,254 2953,178 2606,188 2472,199 2475,156 1774,204 1626,238 1754,167 2330,287 1812,194 2368,186 2031,191 2308,192 2277,216 2691,176 2469,198 2682,169 925,211 834,177 2551,209 2125,338 2523,159 2691,207 1734,171 2391,175 2260,176 1739,229 2162,180 2469,183 2104,203 2506,186 2093,240 2666,179 2041,196 2014,163 1803,273 1338,289 2912,184 2164,217 867,235 2002,299 1772,184 2604,245 2970,243 1668,156 2949,334 2046,224 1349,214 2833,200 924,182 2316,231 2340,169 1253,215 1710,215 2547,175 2016,194 1787,170 1225,199 2351,212 2351,277 2241,391 1817,200 2915,401 2232,219 2427,186 2459,189 2121,406 2133,246 2589,186 1148,273 1881,210 2303,308 1385,288 2058,166 1627,238 1997,199 2167,191 1689,201 2884,333 2864,219 2002,172 2550,173 2539,354 1663,186 2869,183 2054,271 1612,166 2057,212 2493,408 2575,184 2742,203 2260,189 2431,192 2492,265 2271,177 2540,158 2389,177 2183,215 2892,175 2490,258 2501,291 2215,199 1327,217 2532,225 2558,189 931,187 1989,189 815,222 1849,168 1869,228 2209,212 2086,226 1422,220 2498,159 2107,397 2208,224 2304,234 1997,197 1632,261 2492,220 1795,200 2329,249 2128,235 2959,339 1780,189 2435,210 1682,209 2267,237 2254,192 2341,220 2594,232 2556,163 2139,219 2533,262 1512,185 2117,180 2469,193 2600,168 2201,203 1916,232 2331,200 909,161 1713,201 2175,202 2219,177 2634,212 1809,163 1862,224 2927,207 1112,175 1219,176 2912,345 2524,183 2232,206 2221,172 1538,152 2156,224 1719,176 2346,201 1890,194 1858,212 2140,228 2316,224 2576,272 2443,207 2215,173 2397,263 1037,224 920,208 1977,217 1991,177 2461,171 2033,240 2429,197 2570,288 2640,251 2348,169 2134,246 1674,236 2181,254 2042,243 2054,230 2201,247 1566,208 2253,167 2057,214 1904,183 1813,196 1631,256 2008,179 2742,159 2232,164 2224,205 2260,216 2715,276 2337,231 1763,189 1941,179 924,215 2164,280 1295,249 1857,190 903,292 2188,205 1890,214 1644,184 924,177 2593,174 2602,196 2508,200 1954,173 2052,212 2160,207 2548,172 2283,226 2973,195 2054,196 2820,154 2115,210 1343,169 1791,171 1527,185 1935,161 2407,185 1165,162 2263,257 2160,186 2946,190 2249,295 1539,211 2637,255 2049,256 2813,190 917,285 1319,232 892,153 2270,231 1269,240 2002,169 2561,224 2185,163 1670,219 2284,175 1828,195 2364,267 2155,251 2564,199 2311,162 2947,155 2272,265 1573,207 1227,222 1318,268 1706,376 1804,251 2154,230 1385,226 2290,170 1980,197 1940,358 1931,225 2667,219 1927,211 2256,166 1559,204 2961,368 1967,283 2094,219 2309,208 2345,178 2208,198 2563,160 2536,178 1703,194 2779,179 2245,166 2899,341 2899,192 980,181 2144,169 2568,165 1164,190 947,173 1826,208 2320,154 1796,197 1730,189 2646,167 2311,160 2191,221 1396,299 2004,193 1592,176 2724,173 1831,216 1995,167 2168,187 2410,177 897,162 2461,159 2798,173 1619,231 1809,181 2603,208 1595,214 2205,235 1306,354 2540,230 1739,195 2625,171 2727,195 1905,216 1919,196 2370,225 3022,341 2866,227 1489,158" marker-start="url(#ko)" marker-mid="url(#ko)" marker-end="url(#ko)"/>
<polyline points="1705,201 2095,158 2218,180 2094,175 2316,175 2559,171 1785,177 2011,187 2165,238 1946,206 1859,167 2015,178 1788,154 2193,239 2098,190 2041,181 1824,159 1749,162 1947,158 1895,201 2216,186 2738,183 1800,177 1751,366 2118,161 2329,193 2895,198 1653,165 2358,182 1738,164 2133,303 2886,171 1918,235 2215,159 2036,172 2201,179 1707,163 1768,230 2186,171 1879,180 2062,156 2790,161 1753,177 2213,173 1757,177 1935,182 2343,160 2281,204 2920,347 2218,225 2044,174 2671,164 2439,188 2203,160 2187,172 2410,229 1882,208 1252,177 2191,179 2145,170 2358,201 1921,177 2391,157 2451,222 1681,161 2042,154 1884,163 2646,169 2926,325 2025,163 2423,188 2566,171 2026,217 2008,169 1771,218 1256,285 1881,167 1847,179 1973,218 2110,164 2361,172 2038,200 2230,177 2120,158 1975,170 2188,183 2489,160 2080,202 2142,185 2260,181 1740,189 2049,161 2353,171 2198,162 1924,169 1953,191 1794,155 2296,173 2215,173 2892,185 2369,157 2049,185 2102,213 2007,168 1673,190 1718,167 2266,169 1866,163 2036,191 2313,239 2105,196 1888,194 2044,211 2002,174 2913,236 1799,190 2621,154 2131,205 2211,183 2184,170 1945,217 2313,163 2395,165 2366,183 1928,222 2298,159 2147,218 2382,184 2077,164 2186,179 2092,162 2363,203 1822,207 2331,178 2132,195 1721,170 2253,167 2532,161 2356,169 1863,220 2324,159 1276,200 1840,172 2082,210 2206,155 1938,156 1995,157 1779,160 2426,299 2505,200 2326,180 2016,180 1625,184 1968,164 2257,172 2046,207 1929,178 1764,160 1195,191 1915,178 2260,154 2073,175 2394,193 1968,168 2120,168 2901,212 2205,161 2329,177 2226,182 2154,154 2237,159 1896,196 2417,162 2081,162 2274,166 2025,167 2111,168 2124,253 1791,175 2526,174 2113,216 2351,194 1998,172 1765,212 1787,169 2097,168 2224,178 1940,170 1925,170 2293,199 2101,178 2641,171 1843,219 2228,261 1769,159 2373,247 2347,176 1724,166 1911,216 2708,165 2202,172 2139,174 1613,181 2817,219 2351,173 2256,175 1727,174 1785,165 1674,159 2637,198 2363,208 2837,163 1685,204 2085,157 1982,193 2944,267 1919,167 1848,168 1675,160 2040,167 1863,174 2213,175 2356,237 2357,157 1816,185 2120,246 2119,184 2198,229 2092,157 2380,177 2127,166 2098,196 2765,192 2158,155 2050,173 2070,200 2404,153 2119,173 1716,168 1677,170 1705,178 1968,167 1734,156 1855,163 2370,369 2514,193 1916,168 2227,176 2173,179 2220,167 2100,169 1749,165 2002,193 1953,174 2009,171 2362,208 2181,178 2358,160 2105,213 2220,173 2113,188 2274,169 2202,186 1682,159 1725,216 2343,177 2193,175 1769,211 2611,168 2946,184 1633,173 2457,182 2275,166 1679,175 1685,207 1916,154 1871,174 2647,174 1942,197 2034,170 1942,154 2065,167 2182,170 2590,165 2381,178 1820,160 2004,159 2487,193 2122,200 2301,158 1282,258 2946,345 2730,154 1853,217 2330,235 1825,260 1273,218 2053,215 2173,243 2289,181 1760,183 1803,154 2054,157 2138,185 2336,181 2036,156 2017,165 2390,205 2590,163 2178,169 1897,207 2884,314 2185,163 2101,164 2454,302 2036,210 2512,183 2712,216 2486,258 2324,231 2126,165 2189,162 2552,166 2281,213 2290,249 2520,201 2186,167 2280,158 2217,192 1885,163 1691,209 2376,235 2467,172 2139,197 2068,189 2395,198 2205,170 2411,160 2106,222 2243,184 1766,160 1825,161 2060,294 2635,170 2186,196 2036,179 2181,244 2193,169 2233,162 2399,188 2957,184 2886,166 1878,225 2580,191 1762,161 1949,189 1738,175 2338,160 2222,173 2035,260 2092,163 2054,177 1364,188 1910,180 2240,184 1280,194 1781,160 2201,235 1702,159 1921,187 2358,204 1940,155 2308,177 2183,258 1710,180 2704,274 2182,241 2105,164 1789,159 1946,166 2618,154 2220,169 2080,184 2816,154 1816,193 2240,168 2194,297 2213,170 2314,161 1532,170 1782,219 2148,266 2331,232 2363,183 1905,157 2270,174 2035,225 1859,203 2955,153 2267,179 1708,161 1884,163 1584,202 2256,202 1714,202 2358,154 2446,154 2358,182 1821,159 2186,192 2167,201 2072,168 1943,166 2043,202 2055,161 2356,192 1861,166 1781,186 1699,177 1915,226 2040,159 2321,247 1741,160 1934,196 1835,158 1703,175 2058,167 1179,198 1615,187 1781,163 1292,184 2505,168 2255,170 2487,209 1953,206 1748,168 1903,240 2191,175 2017,196 1774,185 2857,213 2557,200 2068,159 2109,159 2190,163 2141,164 2092,186 2171,171 2405,215 1264,190 2266,158 1852,209 1804,158 2056,167 2697,231 2030,166 1917,219 1818,172 1997,166 2101,177 2024,190" marker-start="url(#kp)" marker-mid="url(#kp)" marker-end="url(#kp)"/>
<polyline points="1895,809 1870,421 1396,260 3202,679 2957,298 920,153 842,246 2073,180 2891,325 2124,771 2516,198 2182,216 2935,239 2948,205 2474,250 878,263 1709,197 2790,180 1056,363 1989,216 2490,205 2208,209 2150,596 2424,211 1991,736 2320,524 2970,178 2222,204 1467,336 2298,244 897,244 2565,163 1232,385 3019,407 832,197 2964,167 1855,212 1903,233 2865,185 2420,222 1781,233 956,202 2952,275 1065,229 2379,212 1844,179 2761,159 723,202 2071,223 2440,222 3335,166 1151,190 1390,198 2180,223 2972,292 2078,671 2477,198 2381,220 2737,413 2175,598 835,247 2223,179" marker-start="url(#ku)" marker-mid="url(#ku)" marker-end="url(#ku)"/>
<polyline points="2519,162 2060,202 2956,179 2490,389 1762,261 744,245 744,196 946,366" marker-start="url(#kc)" marker-mid="url(#kc)" marker-end="url(#kc)"/>
<polyline points="2125,189 1790,201 2889,314 1317,311 1825,192 2830,158 2135,220 2151,277 2188,210 2383,248 1282,182 1786,221 2898,289 1161,309 2054,237 853,179 2606,155 2946,354 2802,155 1799,211 919,208 1396,181 1906,175 2223,186 2477,166 2931,406 1816,207 2700,362 2614,222 1650,176 1208,190 2943,225 1712,183 2057,293 1893,156 1613,165 2839,203 2343,230 1815,216 1366,198 2301,208 1769,190 2226,219 1725,226 1320,186 846,197 2000,171 1044,188 1772,213 2135,246 2097,186 1811,204 2967,277 1226,181 2438,188 1677,185 2237,155 2290,216 2224,214 2027,249 2384,175 2337,288 1800,177 2610,203 2138,154 1910,231 2241,215 2559,194 1824,177 2829,228 2449,339 2183,184 2025,264 2883,168 2929,201 2232,169 2003,198 2568,189 1093,163 1886,170 2142,251 1990,245 2233,166 2827,214 2484,270 2501,263 1904,165 2372,254 1928,228 2360,411 2551,182 1643,189 2624,253 2047,206 1941,194 2482,223 2298,248 1641,170 2894,339 2736,206 2269,279 2456,200 2907,169 877,216 2161,215 2452,220 2567,175 2180,179 2046,180 1463,168 2144,229 2565,193 1648,201 1579,234 1746,196 2424,177 2020,214 2700,174 2955,329 1408,181 2073,201 1835,209 2963,260 1608,202 1959,189 1836,190 2305,174 1320,270 2381,197 878,278 1270,238 2278,217 2669,170 2948,285 942,158 1964,190 2752,200 1369,431 2181,255 1519,153 2055,214 2744,423 1893,155 2633,163 2197,179 2230,212 2421,158 2446,162 846,166 2414,168 1649,345 2193,229 2111,182 2259,212 1855,205 2336,274 2057,158 2244,162 895,217 1642,202 1647,185 1818,173 2300,177 2501,203 2630,201 2358,195 1955,191 2466,180 2580,256 2239,155 2897,328 2059,179 2059,194 2140,198 2437,166 2154,226 2478,243 917,198 2232,234 1406,306 1477,249 2257,182 2444,190 1886,204 2656,266 2439,169 1163,172 1442,184 2074,175 1912,170 2207,238 1589,276 2527,184 2225,288 2599,190 2044,220 829,187 2387,168 2690,209 2350,291 2434,182 2322,216 1944,196 2084,217 1763,202 2296,212 2355,203 2808,207 1728,266 2286,220 2354,218 926,221 1430,222 2199,174 899,257 2308,181 1175,200 912,202 2022,254 2048,254 2201,247 1874,199 1164,192 2120,199 1426,182 2304,251 1117,210 2287,172 2873,304 2801,154 1796,198 2895,317 2260,203 2796,159 1887,198 2473,233 1938,200 1624,171 1913,233 2208,211 2186,178 1601,166 2380,185 2641,265 2217,159 1921,216 2111,180 1892,229 2054,231 1440,277 1823,190 2125,239 1628,421 1751,161 2362,234 2711,189 1759,204 2142,398 2304,191 2415,239 1134,206 2165,193 2177,194 2148,254 1577,213 2529,177 1905,212 2131,209 1858,170 1765,396 1632,167 1194,324 2137,213 2817,172 1175,195 2063,219 1053,176 2580,159 2364,158 1928,184 2410,173 902,166 1812,159 2417,173 2245,205 2835,369 2371,221 1926,204 1624,237 2197,223 1627,187 2704,255 2381,235 2182,229 2523,249 2178,182 1759,192 2454,212 1633,170 1855,194 2327,252 1816,208 2140,202 1655,240 2621,262 836,229 2261,174 1524,183 1837,182 2554,160 1752,194 2451,210 2940,211 1928,185 2782,162 1098,259 1704,192 1422,199 2215,208 1170,289 2226,184 1725,204 2474,192 2521,192 2546,185 1507,178 2650,208 1764,196 2173,176" marker-start="url(#ko)" marker-mid="url(#ko)" marker-end="url(#ko)"/>
<polyline points="924,294 1030,509 610,250 1507,224" marker-start="url(#km)" marker-mid="url(#km)" marker-end="url(#km)"/>
<polyline points="604,421 2484,269 3039,349 2955,209 2429,178 1333,168" marker-start="url(#kc)" marker-mid="url(#kc)" marker-end="url(#kc)"/>
<polyline points="2148,607 2419,183 2911,576 1833,674 1748,185 2546,444 906,250 2404,257 1874,707 1833,503 2177,242 2000,213 920,169 2314,161 2962,231 2013,156 1845,656 2156,169 1965,538 1737,167 3231,395 3032,298 2860,205 2973,208 2054,756 936,230 1048,450 1996,789 871,206 2997,340 1591,396 836,162 1362,247 2471,173 2104,167 2905,332 1280,166 3254,459 885,203 1902,807 892,285 2973,229 2189,203 1604,407 3100,203 943,418 1608,212 2918,220 2169,257 2434,203 1130,234 765,185 2372,234 1760,216 1259,759 3036,151 2759,156 1192,279 2047,273 901,368 1336,390 737,176 1797,217 3001,413 2480,171" marker-start="url(#ku)" marker-mid="url(#ku)" marker-end="url(#ku)"/>
<polyline points="2340,161 2282,204 2382,176 2485,155 1842,209 2243,164 2165,224 2169,218 1920,179 1696,190 2056,212 1654,159 2205,181 1266,194 1737,174 1930,166 1232,186 2513,176 1829,203 1917,165 2176,176 2914,182 2581,205 1840,183 2300,178 2116,186 2307,196 1615,165 2384,179 2301,183 1960,157 1708,160 1938,155 1915,163 1916,165 1805,174 2335,236 1300,160 2142,170 1975,221 2148,171 2183,181 2062,157 1155,182 2138,172 2172,230 2344,184 2340,205 2035,179 2403,169 2321,241 1876,179 2077,203 2481,161 2502,167 2296,195 1831,260 2027,213 2077,211 1912,166 2053,188 2644,161 2341,192 1918,154 2579,168 2311,258 1991,161 2015,172 2320,184 2864,170 2132,254 2290,226 2387,166 2167,188 1800,217 1972,273 1970,169 1750,159 2154,196 2519,167 2518,162 1878,177 2328,160 1547,233 1740,243 1945,164 2071,174 1731,159 2161,251 2417,169 1899,175 1677,158 2333,205 1745,165 2371,242 2724,162 2226,215 2047,166 1731,220 2306,170 2356,177 1640,179 2265,264 2534,167 1971,228 1754,205 2283,155 1803,163 2026,185 1324,212 1893,169 2107,164 2283,225 2230,188 2345,186 1705,181 2165,158 2900,347 2185,204 1624,176 1891,185 2418,175 2147,173 2008,169 2020,217 2138,166 1817,168 2019,177 2182,155 2232,163 1977,177 1703,280 2071,154 2606,189 1815,309 2370,210 1614,185 2216,187 2186,211 2359,243 2484,163 2644,176 1814,343 2603,178 2062,240 1752,164 2097,172 2001,164 1651,161 1956,197 1862,182 2354,288 2265,265 2358,226 1772,233 2444,212 2126,182 2169,174 2433,171 2377,183 2362,255 2187,170 1887,161 1196,184 2836,229 2412,161 2081,169 2001,154 2074,154 1834,158 2346,170 2083,259 1880,175 2307,154 1931,163 1773,157 2134,204 1763,172 1837,154 1720,182 2295,164 2224,174 1674,172 2117,172 2199,194 2165,166 2676,154 2570,176 2929,187 2434,218 2640,166 2046,225 2155,156 1305,155 2404,163 1767,163 1748,277 2399,222 2417,154 1948,166 2123,222 1869,155 1856,221 2199,275 1665,162 2063,162 2044,158 1861,217 2411,157 1858,168 2376,197 2148,236 2566,156 1733,166 1892,157 1877,166 2590,180 2396,162 1974,162 2285,173 1904,249 2485,170 2341,242 2494,159 2038,159 1673,175 2210,169 2725,177 1928,161 1920,164 2178,173 2073,156 1870,171 1818,171 2094,168 2077,230 2450,173 1813,163 1991,154 2051,161 2434,214 2096,226 2103,263 1866,164 2306,212 2026,179 1331,177 2155,176 1740,155 1712,171 2494,164 1779,184 2355,184 2001,165 2263,251 1998,163 2263,171 2101,170 2039,235 2121,235 2637,170 2499,236 2070,211 2111,221 2169,154 2204,171 1521,271 2369,179 1895,195 1731,200 1932,202 2280,184 2047,156 2856,170 1719,200 2031,215 2584,188 2910,167 1914,164 1737,158 1799,194 1636,156 1727,225 2391,224 2046,184 2875,164 2048,165 1939,205 1941,156 2152,189 1806,153 2132,162 2560,174 2280,176 2199,226 1970,211 2002,163 1728,179 2050,196 1933,179 1941,172 2322,185 2081,162 1998,179 2383,172 1911,173 1894,167 2235,181 2806,185 2937,265 1915,171 2302,219 2097,217 1874,176 2252,197 2122,173 2262,159 1718,202 2046,212 1780,189 2035,170 2248,161 2189,166 1795,160 1991,173 1901,199 2202,170 1719,205 1781,213 2195,160 1951,184 2011,164 1764,222 2144,168 2226,197 1814,160 2088,154 2501,295 1930,201 1668,154 2155,154 2294,157 1680,166 2118,178 1880,208 2326,201 1864,163 1815,186 2281,206 2297,162 1799,197 2182,168 2074,154 2459,158 2004,171 2285,169 2302,178 2097,161 2174,248 1913,182 1875,167 2357,170 2233,197 1712,195 2391,195 2019,168 1260,285 1842,174 2272,177 2642,159 2231,158 1932,168 1983,155 1756,241 2415,161 2109,220 1609,249 2071,231 2529,162 2102,167 2171,157 2539,332 3036,166 2198,308 1232,183 1932,176 1902,169 2184,250 1663,163 2107,222 2383,160 2439,165 2577,154 2199,279 2434,169 1691,154 2285,237 2876,261 1841,186 2062,227 2079,176 1452,161 2204,163 2281,185 2130,190 1705,164 2443,201 1671,163 2181,164 2728,168 2380,188 2157,178 1915,169 1907,166 2230,174 1663,241 1273,215 2027,203 2044,161 2384,172 2247,172 1923,214 2629,220 2258,164 2285,171 1757,155 2200,249 2010,173 2001,171 2317,160 1707,180 1848,207 1728,167 2353,166 2135,188 2241,178 2465,171 2034,208 1835,158 2191,170 2328,170 2223,169 1854,223 2056,155 1833,159 2185,158 1890,219 1779,159" marker-start="url(#kp)" marker-mid="url(#kp)" marker-end="url(#kp)"/>
<polyline points="2938,180 2195,211 1380,182 2649,162 849,252 1154,187 2245,240 1980,186 2225,205 1783,192 2261,221 2217,258 2332,241 2345,253 1676,219 2323,174 2203,172 1375,184 869,202 2403,188 2767,182 2395,160 1678,175 2167,289 2959,261 2717,245 2915,165 2197,198 2646,158 2224,211 2260,184 2158,170 1314,335 1932,185 2167,267 1806,202 2892,174 2533,167 2035,213 2881,324 2007,167 1157,180 2051,209 2059,194 1155,171 2077,217 1809,181 938,202 2696,215 2240,222 2040,181 2552,226 2512,196 919,223 1469,173 2119,174 2536,210 2018,185 2998,222 2231,194 2243,175 956,194 2508,220 2267,244 2145,204 2847,177 2012,168 2456,174 2483,219 1794,164 2461,189 2132,330 2305,237 2862,154 2105,281 2955,292 2075,163 1825,215 2460,182 2023,207 1999,206 1513,221 1903,197 2143,189 1735,209 1605,168 1805,198 1969,219 2447,227 2106,177 2787,226 2113,181 2058,236 2522,163 2542,154 2497,170 2900,237 1575,283 2352,219 1678,182 861,215 1972,183 2968,404 2741,214 2034,313 1878,339 2701,163 2948,274 1923,207 2601,191 2060,183 2238,199 1851,184 2523,172 2358,203 2624,202 2175,234 2261,232 2755,284 2193,228 2942,211 2314,158 2237,227 2366,176 2552,197 1667,175 1778,181 1900,165 2050,205 2264,170 2684,196 2959,178 1575,192 1704,208 2256,224 1560,305 1898,166 1964,189 2610,169 2646,206 1254,279 1624,162 2322,179 2005,191 1858,269 1661,178 2130,168 2183,169 2580,160 2553,220 2737,222 2133,172 2615,242 1531,210 2577,190 2524,166 1970,230 3153,153 1912,191 2319,189 2796,332 2971,367 1771,204 2969,347 2330,269 2306,227 1899,193 2952,241 2729,221 2253,205 2582,169 1108,201 2048,212 2589,178 918,182 2017,187 2323,249 2925,191 2619,254 2274,220 2442,171 2383,228 2586,293 1912,205 2104,157 1863,181 2268,256 2201,208 2499,309 2197,308 2265,183 2223,404 2532,385 2369,185 2454,230 2730,209 2817,173 2201,170 2561,182 2049,215 1674,173 2494,271 2534,208 2894,337 1618,241 2120,252 2156,212 2563,158 2369,191 1998,219 2599,300 2121,245 2687,185 2559,156 836,190 2673,168 2194,240 2481,210 2249,189 2246,201 1143,174 2628,307 2463,190 2945,264 2246,246 2210,215 2887,195 1334,264 2143,202 2250,278 2146,218 1189,254 2127,167 2492,179 2182,213 1759,221 1948,228 2912,161 2152,179 2146,243 2576,160 2281,174 2408,161 2221,253 2682,206 1773,303 2313,184 1149,179 2216,231 1649,356 1454,190 1671,199 2188,195 2132,219 1977,193 2202,203 2231,193 2332,236 1334,264 2098,203 2117,177 2327,204 1801,199 1208,210 2309,189 2312,174 2016,212 1892,210 2485,162 1637,429 2450,183 1790,192 2448,197 2509,160 1820,165 2364,273 2493,163 1634,187 2915,245 1560,200 1568,274 2805,177 1687,158 1563,312 2445,179 1471,184 1691,190 2137,206 1967,205 2195,260 2032,197 2185,205 2594,210 1958,181 2407,216 2796,177 2449,244 2442,215 1410,166 2417,168 1687,183 2910,245 2466,155 2471,262 2230,197 1778,203 1811,170 2259,211 2206,218" marker-start="url(#ko)" marker-mid="url(#ko)" marker-end="url(#ko)"/>
<polyline points="1044,208 2955,183 2967,162 868,158 3060,374 1916,212 1319,170" marker-start="url(#kc)" marker-mid="url(#kc)" marker-end="url(#kc)"/>
<polyline points="2173,240 851,211 2160,258 920,335 1956,709 2451,175 1598,398 868,261 1418,259 2203,256 1529,864 3024,400 1078,206 1422,249 845,159 871,243 1299,281 1846,201 3054,203 2557,159 846,250 2959,284 1461,196 2096,261 2378,223 2719,243 2471,163 2633,168 2230,237 794,192 1948,172 815,197 1727,789 1491,200 2109,242 2360,411 3043,325 2290,213 939,267 2948,215 942,204 1273,983 2236,173 1959,166 2208,269 2907,347 2215,216 1964,252 1981,609 1262,992 1212,378 2562,204 1933,165 2420,421 2444,228 2089,172 2243,250 1039,250 1756,191" marker-start="url(#ku)" marker-mid="url(#ku)" marker-end="url(#ku)"/>
<polyline points="2101,194 1927,171 1909,154 1802,171 2169,287 1758,154 2229,163 1830,169 2141,234 2567,155 2215,182 1770,180 2135,210 1891,170 1828,216 2299,234 1917,163 2105,240 2482,165 2355,181 2068,212 2476,273 2582,178 1713,200 2398,189 1297,221 2958,224 2076,181 2056,160 1900,200 2116,198 2216,178 1988,184 2517,159 1626,166 2111,180 2539,164 1839,174 1963,197 2322,260 1762,212 2035,173 2313,155 2539,163 1877,208 1923,154 2238,177 2075,163 1818,175 1975,165 2446,193 2018,169 1772,155 2261,163 2148,172 1965,162 2228,189 2375,175 2345,172 1945,188 2130,162 2154,166 2445,199 2557,160 2210,193 1604,157 2125,185 2146,179 2358,203 2114,194 2364,237 2357,233 2027,203 2241,165 2028,173 1647,159 1930,162 1982,189 2339,171 2266,181 2038,173 1783,286 2062,168 2233,267 1930,171 2025,164 2576,244 1732,168 2709,164 2115,156 2130,176 2101,155 1952,164 2296,169 2052,177 1949,195 2201,185 2007,221 2012,167 2474,159 2057,171 1935,155 2179,183 1881,166 1814,162 1762,160 2518,158 2269,258 1897,193 2562,160 1718,158 1884,208 1976,163 2317,210 2140,175 2468,204 2242,163 1944,217 2471,168 2205,161 1967,165 2627,225 1770,175 2920,177 1785,204 2246,167 2062,220 1772,188 2509,212 2244,235 1697,187 2023,167 1735,168 2962,191 1810,184 2307,161 2070,173 1830,158 2437,175 2139,186 2329,198 1888,172 2182,163 1950,188 1871,154 1840,155 2883,181 2239,162 2306,165 2435,165 1741,170 2407,173 1737,164 2233,160 1893,155 1755,173 2512,172 1795,164 2042,211 2293,170 2135,244 2692,168 2312,235 1935,157 1896,194 2088,279 1971,209 1704,165 2584,167 2051,166 1743,191 2243,187 2291,161 2276,162 2512,197 2232,211 1806,174 2013,197 2245,163 1718,154 1748,199 2118,173 1880,167 1810,172 1880,211 1951,168 2070,172 2327,240 2650,155 2144,165 1977,158 2584,273 2250,204 2014,161 2063,185 1932,178 2236,250 2304,155 2190,198 1538,231 1786,157 2478,230 1760,162 2249,176 2298,188 1899,201 1861,220 1871,158 1977,170 2259,189 1727,154 2287,206 1907,164 2201,204 2969,356 2313,175 1938,182 2107,169 2287,166 2205,185 1678,166 1893,198 2003,164 2050,163 2359,167 2442,166 2680,164 2155,190 2343,205 1749,174 2311,166 2017,188 2045,214 1983,166 2407,158 1991,207 1893,170 1766,218 2583,157 1999,217 2473,226 2208,167 2295,211 2298,175 2204,157 1920,158 1818,202 2887,321 2578,310 2026,163 1943,158 2023,154 1893,161 1788,172 2377,194 1730,180 1747,166 2362,181 2497,158 1765,154 2241,196 2309,178 2201,236 2184,179 2062,164 2246,246 1797,210 2028,155 2240,163 2638,171 2062,163 2475,176 2424,184 1861,214 1736,161 1436,203 2700,265 1909,168 2214,239 1737,171 1778,162 1705,191 1679,185 2423,163 2046,168 2323,173 2335,192 1798,163 1922,163 2158,175 2155,183 2581,162 1337,261 2075,157 1874,160 2097,209 1616,154 2035,154 2243,181 2034,203 2587,190 1938,158 1315,249 2209,299 1713,170 1977,188 1740,179 1831,158 2426,163 1754,196 2571,177 1931,159 1257,286 1894,164 2125,185 1226,180 2014,169 2213,186 2337,182 1734,159 1906,182 2136,171 1797,164 2224,178 1717,162 1829,161 2779,190 2674,164 1811,159 1747,199 2280,168 1801,176 1685,181 2027,213 1935,196 2180,192 2238,190 2004,154 1786,156 2004,217 2554,164 1952,172 1822,201 1721,179 2221,157 2616,160 2313,181 2150,203 2581,169 1865,190 1946,202 1758,160 1704,183 2143,178 2444,213 2894,168 2199,187 2154,158 2211,177 2350,234 2506,164 2189,184 1231,204 2176,173 1920,163 2075,185 2180,238 2448,234 1268,171 2307,157 2587,184 1936,173 1915,162 2451,218 2273,275 2132,186 2127,175 2142,169 1885,173 2142,175 2221,183 1726,164 2547,160 1831,179 2480,169 1754,175 1666,160 1731,163 2027,203 1661,199 1949,216 2313,161 2663,190 2314,172 1830,182 2148,173 1673,195 2550,153 2112,189 2105,248 2443,181 1970,165 2124,163 2163,196 2365,266 2403,229 2131,163 1899,178 2247,168 1758,171 2357,207 1900,181 2062,293 1298,158 2264,164 2602,160 2165,210 2112,223 2469,245 1681,206 2635,166 2532,226 2120,174 2031,212 1916,160 2021,185 2093,158 1925,229 1726,198 1732,165 2512,178 1892,176 2834,224 2341,191 2269,226 2369,169 2054,165 2243,202 2445,259 2444,298 2219,170 1938,175 2004,156 2158,177 1775,164 2100,227 1987,300 2585,267 2744,178 2189,171 2435,154 2298,251 2658,157 1811,172 1918,168 1757,154 1634,188 2208,190 2346,165 2039,172 2485,222 2570,203 2163,156 2565,154 1792,169 2295,163 2208,196 1723,181" marker-start="url(#kp)" marker-mid="url(#kp)" marker-end="url(#kp)"/>
<polyline points="599,268 606,264 3155,203 1660,406 596,262 755,201 592,273 797,215 1572,212" marker-start="url(#km)" marker-mid="url(#km)" marker-end="url(#km)"/>
<polyline points="2220,146 3006,253 2897,391 1695,148 749,153 2585,220 945,356 2238,148 765,153 2525,430" marker-start="url(#kc)" marker-mid="url(#kc)" marker-end="url(#kc)"/>
<polyline points="997,493 997,493" marker-start="url(#km)" marker-mid="url(#km)" marker-end="url(#km)"/>
<polyline points="1637,468 839,163 2488,215 742,208 1625,202 1412,243 808,194 2120,749 1975,170 1929,159 2496,182 1181,261 2367,214 1979,154 2316,265 2063,225 2445,204 1245,429 880,315 2457,257 1779,184 3014,226 2948,290 1346,226 1062,161 2241,498 857,232 2157,291 832,154 1862,168 2590,183 3285,172 2723,232 2937,340 2945,336 1189,434 1814,212 2078,693 2984,262 2470,167 2191,188 1727,175 1408,186 2037,205 2001,194 2980,215 2312,242 2212,348 860,165 2042,629 1198,249 914,352 2058,408 2398,216 1662,421 1963,327 2733,202 2961,236 1035,426 1823,716 928,180 2972,308 882,328" marker-start="url(#ku)" marker-mid="url(#ku)" marker-end="url(#ku)"/>
<polyline points="2122,284 1904,190 1125,184 1970,216 1331,353 1345,164 1180,224 2330,212 2232,386 2227,212 1666,216 2808,164 1822,177 858,169 2563,183 2522,226 1118,257 2231,218 1995,215 2502,156 2490,182 1994,175 2543,172 2864,219 2907,179 2530,163 2008,176 2391,160 1590,216 2161,239 1797,171 1784,169 1471,218 1798,213 1987,181 2031,223 2906,281 2216,208 2488,241 2548,456 2259,172 2260,183 1643,194 2554,168 2464,184 2655,240 2528,173 2447,220 2568,165 1832,168 2033,216 2456,159 2376,199 1568,261 2117,193 835,247 2485,162 2895,171 1259,198 2479,156 1427,304 1942,238 2189,214 916,226 1325,175 2528,155 2014,218 2172,248 2911,238 2817,179 1769,185 1474,196 2446,204 2063,228 1694,177 2131,177 1414,269 2013,168 2521,186 1790,190 2158,221 2912,364 1995,209 2237,208 2366,251 2463,201 2383,204 1811,167 1378,201 2910,231 1153,238 2207,391 926,191 1693,192 2375,222 932,194 1631,179 2931,211 2866,161 1835,176 2526,161 2951,243 1675,203 1979,305 2197,206 1900,191 1345,200 2159,285 2061,221 2994,366 2959,226 2514,247 2021,176 2779,364 1903,169 1918,162 1910,210 2167,187 2235,285 2367,273 2326,251 2556,195 1902,179 2586,168 2435,183 2523,171 2019,307 2329,187 1854,215 2408,222 1475,280 2190,211 2145,225 1803,280 1789,180 2617,208 1900,213 2300,205 2013,202 1965,195 1781,164 2561,165 2614,196 2924,186 2137,174 1996,196 2582,189 2476,227 1907,171 2304,184 1909,195 2911,265 1168,180 1051,183 2121,169 1760,286 1997,204 2291,207 2527,161 1803,194 2488,210 2436,159 2815,220 1770,197 2655,213 2196,214 2599,160 2820,156 1910,185 1116,266 3008,327 2429,193 2510,169 2027,197 1934,176 2920,388 1938,210 2270,181 2371,226 2180,253 1965,206 1918,181 2126,187 2273,170 2351,201 1924,210 1402,226 1771,205 2345,257 2970,328 2322,165 1851,262 2078,166 1912,255 1978,206 2609,184 892,190 2048,168 2758,339 1114,206 2497,220 2629,169 941,198 2247,239 2062,308 2710,205 2259,234 1825,200 1993,220 1708,446 2201,215 2503,224 2868,224 2282,189 2061,241 2699,166 920,200 2197,236 1772,187 1111,162 1574,220 2530,156 1738,195 2080,176 2200,415 2494,247 2711,274 2126,244 2900,314 3230,172 2192,251 1798,202 2187,215 2169,210 1800,205 2300,225 2720,276 1783,188 2257,181 1811,193 2325,192 1642,196 2073,220 2358,218 1222,160 2275,336 1908,242 1953,178 2547,158 2141,236 2471,183 2305,242 1749,178 2018,366 1104,160 1618,190 1131,249 1896,223 1251,302 1759,216 2277,167 1888,197 1965,226 2278,215 1846,183 2140,167 1868,188 1521,164 2509,180 2902,232 1132,288 2209,201 1918,241 2003,184 2066,218 2247,171 2596,196 2475,235 2260,172 2768,159 2080,200 2169,182 2152,195 2549,202 1816,267 1949,178 2005,225 2951,247 2594,210 1828,208 2161,162 2166,364 2485,191 2431,221 1309,210 1835,246 2068,388 2238,237 2498,156 1713,203 2199,254 2408,204 1804,178 2304,235 2392,199 1635,188 1854,195 2591,228 2350,229 1965,209 2333,223 2368,246 2045,235 1576,227 2215,247 1858,196 2135,232 2274,230 1574,183 1144,173 2935,204 1727,163 1374,170 2588,165 2562,231 2940,296 2243,159 1945,192 2111,219 2006,208 1247,163 1157,185 918,220 2449,218 2447,159 2206,209 2444,207 2506,214 2072,228 2266,212 2343,197 2331,160 2162,168 2461,264" marker-start="url(#ko)" marker-mid="url(#ko)" marker-end="url(#ko)"/>
<polyline points="2274,312 1797,197 2195,176 2310,161 2909,164 2018,186 1821,161 1926,255 2050,203 2044,204 2490,165 2102,170 1677,191 2018,203 2428,267 1767,158 2141,176 2555,180 2012,221 2311,161 1965,183 2378,204 2470,167 2165,161 2225,240 2357,202 1240,205 2294,154 1812,202 2292,221 2585,154 2113,185 2404,163 2883,219 2551,162 2362,235 2127,157 2240,262 1772,174 2047,163 1730,194 2234,167 1676,285 2095,238 1992,169 1682,161 2312,184 1977,212 2051,193 1918,161 2548,201 1783,160 2276,245 1706,203 1915,173 2090,223 2194,172 1289,161 2641,210 1804,212 2031,176 2855,165 2455,213 1785,155 2305,157 2238,172 2220,208 2373,167 2310,165 2602,174 1730,178 2020,184 2659,221 2337,172 2082,159 2131,261 1703,166 2365,197 2206,181 2015,177 2467,223 2010,156 2001,191 2224,163 2006,183 2358,162 2183,157 2787,185 2030,252 2028,207 2012,167 1800,170 1991,194 2055,163 2094,170 2049,154 2241,189 2175,173 1936,237 2960,361 2335,213 2060,171 2547,205 2063,185 2083,200 2337,174 1675,169 2258,175 2374,160 1914,160 2079,170 2267,214 2224,240 1996,169 1998,180 2458,161 2347,259 2169,236 1905,172 2631,176 2563,158 2949,189 1986,180 1766,215 2163,197 1755,164 2060,171 2188,164 2903,165 1913,166 2839,176 1906,167 1895,173 1995,166 2262,172 1760,189 2834,232 2923,181 1842,182 2255,187 2203,171 1886,198 1746,173 2196,244 1967,164 2306,162 2101,235 1735,190 1729,181 1134,176 2575,280 2132,183 2172,172 2238,240 1788,181 2080,156 1646,194 1898,189 2214,170 2138,177 2132,227 2265,199 2259,213 2055,175 2160,167 2372,234 2868,192 1982,217 1774,164 1975,208 2569,182 2372,186 2120,300 1754,185 1918,178 1878,213 1867,164 2049,179 1781,251 2041,175 1851,159 1737,163 2290,188 2343,172 1996,194 2308,174 2910,158 1878,171 1949,170 2338,166 1743,209 2364,174 2006,162 2193,235 1898,196 2002,244 2215,207 2293,220 1794,171 2029,168 1997,181 2311,162 2135,169 1895,188 2072,170 2320,162 1811,211 1828,184 2311,167 2590,223 2581,169 1920,177 1803,164 2386,186 2126,160 2337,257 2426,167 2271,178 1995,168 2011,175 1907,177 1712,161 1841,201 1998,171 2040,185 2011,180 2567,160 1997,183 2326,224 2034,154 1886,268 2485,157 2284,188 1793,158 2346,263 1937,182 2420,248 1811,200 2210,173 2480,242 1799,206 2078,162 1901,168 2114,213 2126,161 2296,186 2106,185 2054,157 2074,185 1440,172 2147,196 2304,163 2891,258 2250,336 2396,180 1224,168 2855,160 1750,234 1833,167 2201,278 2271,273 2028,209 2341,189 2271,258 2375,169 2081,166 2462,291 2593,158 2137,208 2102,173 1912,178 2183,173 2118,187 1898,186 2500,184 1831,261 2077,169 2110,211 2307,155 2236,256 2196,181 1669,160 1815,284 2376,156 2078,173 2119,171 1823,197 1931,189 1745,163 2178,171 1807,162 1680,228 1637,183 2975,177 1333,189 2630,228 2266,244 1808,210 1805,166 1747,164 2020,219 2756,178 1978,154 1775,171 2414,228 2175,235 2194,183 2121,183 1147,311 2335,178 2028,164 1827,154 1846,255 2876,218 1908,162 2877,192 2051,162 1822,172 2267,201 2319,190 1961,174 1998,197 1822,166 1784,187 2285,236 2920,196 1857,182 1740,163 1724,171 2424,213 2813,193 2511,164 1897,154 2318,237 1797,175 2070,207 1968,167 2430,221 1654,227 1809,154 2176,252 2010,167 1703,161 2761,180 1779,160 1733,160 2585,171 1961,169 2147,196 2355,182 2268,196 2142,178 1921,162 2264,187 2562,166 1569,200 1886,154 1825,157 1880,219 2062,163 1655,157 1657,171 1758,164 1870,205 1917,165 1917,184 1720,205 2237,216 2449,200 1953,171 2367,168 1896,265 1994,160 2152,156 1927,173 1297,226 1893,179 2137,216 1799,168 2152,186 1903,166 1864,161 1843,195 1731,167 2076,179 2784,157 2360,214 1643,158 2013,204 2579,171 2145,248 2370,154 2278,186 2102,165 1846,210 2416,192 1688,160 2371,173 2098,167 2062,157 2149,168 1930,173 2377,207 2586,164 2009,206 2601,201 2156,168 2645,161 2511,256 1709,183 1693,191 1775,217 2128,199 2450,193 2374,180 2454,166 1732,158 2470,186 2064,177 1242,155 2482,162 2039,171 3089,151 1998,167 2014,174 2455,389 2305,166 1939,173 2385,170 2224,175 2058,173 1820,172 1230,189 1748,166" marker-start="url(#kp)" marker-mid="url(#kp)" marker-end="url(#kp)"/>
<polyline points="3006,313 1438,217 2666,162 1129,200 781,154 1231,200 1278,273" marker-start="url(#kc)" marker-mid="url(#kc)" marker-end="url(#kc)"/>
<polyline points="2460,208 2452,202 2041,195 2751,196 873,189 2142,206 1325,218 2271,179 2324,190 2015,180 2402,169 2554,179 2402,407 2128,245 2964,189 2543,172 1977,194 2238,254 2219,200 2251,215 2332,169 1889,246 1872,195 1485,185 1330,179 2302,249 2337,162 2420,157 2274,185 2745,180 2215,231 2502,204 2224,160 2119,194 2735,336 2433,185 1931,184 2362,217 2293,237 2474,167 2903,327 2930,343 2309,240 2277,218 2630,159 2135,257 1904,190 2063,212 1366,168 889,223 1106,174 2970,208 2345,260 2209,171 2654,260 2749,180 1786,236 2440,167 1833,174 1609,386 2550,202 2244,249 1434,225 2168,214 2899,194 1570,174 2558,197 2310,243 2326,259 2310,174 1643,189 2023,211 1581,159 2919,382 1133,197 2394,276 1118,181 2167,228 2944,323 2306,160 2295,162 1619,179 2248,187 2450,153 919,218 2190,286 1708,211 1499,310 2231,209 2675,183 2463,189 1810,194 1340,224 2838,398 2032,208 2066,229 1439,217 2078,199 1764,179 2262,162 1076,174 1898,237 2812,171 2824,238 2048,211 2145,156 1781,181 2237,195 1896,185 2364,205 1587,266 2280,220 2458,193 1137,176 2346,197 2316,225 2330,240 1929,211 875,209 1650,185 1850,220 2596,200 889,312 2155,247 1458,311 2926,319 1974,203 2552,174 1526,207 2847,327 2488,171 2716,436 1730,186 2255,252 2967,266 2343,173 2439,239 1154,177 2048,208 2634,159 1245,195 2687,207 1632,181 2171,183 2500,182 1818,188 1744,194 2187,244 2181,236 1452,363 2262,184 2482,155 1665,203 2398,217 2582,201 2139,227 2990,354 2729,201 1792,276 2009,184 2015,199 2189,194 1822,210 1677,217 1734,169 2192,180 2619,159 1862,264 1702,173 2113,315 2373,218 2252,181 2891,344 2088,198 2059,294 2301,229 2332,179 1749,195 1730,160 2329,273 2089,201 1801,202 2168,218 1800,191 2096,238 1946,217 2554,207 2005,172 1899,217 1660,202 2270,213 2556,162 1567,202 2219,243 2054,217 1522,214 1825,303 2701,187 1649,155 1624,227 2792,228 1808,172 2834,166 2173,213 2483,161 1676,187 1610,380 1730,156 2402,404 2042,188 864,274 1678,196 1913,169 2291,173 2838,156 2223,288 1789,189 1461,173 2219,260 2564,163 1670,185 2972,346 2540,251 2488,178 2475,174 2228,161 1967,221 1593,221 2242,205 1781,196 2266,214 1876,199 2578,161 853,207 2954,203 2957,290 2275,218 1810,242 2559,169 2054,211 2253,156 1207,191 1529,212 2025,173 2195,243 2908,320 2448,198 2963,285 2279,220 1853,191 2236,209 1883,200 1980,177 2299,190 2810,218 3225,190 2502,183 2137,199 2199,185 2618,158 2322,154 2321,204 2283,219 2333,229 1978,242 2658,215 2361,166 2169,178 1995,279 1812,208 1881,208 1166,228 1748,168 2003,285 2252,228 2316,158 2158,207 2335,218 2762,180 2074,371 847,160 2266,252 1082,216 2241,251 2467,155 2460,163 2374,211 2425,164 2928,168 2222,195 2211,178 2003,229 2416,230 1759,171 1686,189 2315,173 1925,171 1892,218 2585,254 845,206 2268,205 1644,168 2389,180 2447,187 2282,542 2704,281 2526,191 1529,217 2388,255 2178,180 2125,196 2140,184 2550,170 1887,253 2599,265 2418,185 1190,193 2373,284 2407,190 2948,311 2156,238 1814,210 1570,157 2745,211 1924,183 2377,164 2139,209 2846,385 1830,206 2201,231 2231,178 1784,197 1373,220 1769,189 1336,371 1862,208 2152,225 1947,210 2685,199 881,192 1722,253 2304,253 2777,205 2909,222 2101,237 2496,177 2350,196" marker-start="url(#ko)" marker-mid="url(#ko)" marker-end="url(#ko)"/>
<polyline points="1799,165 1738,167 2235,187 2263,158 1799,271 2327,175 2015,181 1933,170 1890,205 1659,161 2349,163 2098,165 2142,156 2374,201 2023,209 1822,171 1787,222 2364,270 2370,205 2675,171 2281,212 2472,181 1696,165 2844,205 2001,199 2425,166 2390,167 2253,166 1864,177 2137,174 2062,160 2576,191 2416,165 1760,167 2321,168 1804,159 1915,194 1774,166 1684,181 2694,214 2458,217 1743,168 2055,209 1762,168 1841,166 2221,176 2305,176 1648,211 1826,168 1920,168 2583,174 1931,194 1705,186 1879,155 1954,192 2460,302 1801,164 2068,189 1928,174 2373,154 2272,159 2197,270 1666,186 1966,208 1727,161 2118,155 1938,171 1887,198 2444,175 1998,170 2579,173 2866,173 1716,236 2124,175 2235,182 2051,196 1858,209 2136,205 1830,165 2364,163 1276,161 2348,198 2183,211 2202,170 1824,156 2344,181 2362,223 1928,253 2054,163 2202,177 2238,236 2005,198 1984,166 2516,167 1956,196 2390,156 1665,154 1777,178 2491,202 1861,170 2026,194 2201,155 2031,175 1785,154 2637,196 1820,171 2110,171 2492,216 2407,231 2854,162 2182,285 1804,198 2117,218 2006,176 1935,212 2691,160 1810,276 2601,171 2368,301 2528,183 2364,154 2059,169 2074,209 1736,165 1987,157 1726,170 2267,167 1705,164 2291,161 2570,209 2430,181 1781,161 1805,162 2204,154 2490,174 1803,167 2124,167 2495,155 2447,163 2170,182 2062,180 1890,166 2487,165 2163,155 1858,169 2945,244 1899,192 1908,227 2209,221 1867,167 1837,156 2965,177 2566,165 2044,204 2570,203 1179,234 2004,184 1768,165 2580,156 2010,184 1894,173 2384,191 1896,262 1998,178 1889,204 1968,188 1917,164 2374,201 2138,172 1738,159 2870,176 2733,177 2243,170 2968,154 1736,178 2206,179 2086,175 2316,226 2898,349 2854,298 2047,158 2042,167 1938,196 2471,160 1882,185 2269,188 2489,164 2304,217 2076,213 2354,222 2018,157 1807,202 2240,174 2303,197 2399,166 2337,288 1962,166 2469,199 1954,185 2510,175 2207,282 1926,169 2168,180 1662,169 2109,159 2330,175 2152,213 2447,254 2182,185 2334,179 1873,172 1811,154 2265,198 2196,227 2119,192 1963,161 1771,155 1897,177 2121,180 1872,161 2111,164 2442,218 1996,206 2548,182 1910,164 2341,176 2311,163 2276,196 1715,167 2122,244 2016,175 2564,159 2440,164 2165,169 2503,154 2288,187 2010,177 2909,336 2122,157 1696,178 2296,169 2009,165 2241,176 1820,191 1724,167 2017,171 1939,154 2647,163 1666,204 1217,194 2377,175 2518,161 2172,168 2366,171 2117,230 2257,203 1904,216 1777,158 1912,176 1886,167 2005,191 2142,175 1714,166 1073,167 2445,162 1933,159 2242,286 2328,194 1829,265 2077,201 2440,196 2668,162 2075,182 2937,241 2209,188 2041,209 2692,274 1822,164 2280,177 2135,172 1944,154 2057,164 2267,209 1787,161 1943,218 2011,206 1802,161 1713,159 2060,154 2869,200 2255,230 1813,164 2645,156 1776,208 2035,227 2270,202 2559,170 2262,242 2501,212 1804,182 2268,180 2782,171 1938,166 2488,177 2445,169 2647,166 1728,173 1835,256 2025,178 1756,158 2014,184 1937,211 2395,176 2307,154 2472,163 2084,186 2383,154 1883,202 1704,191 1798,221 2030,171 1922,165 1779,185 2291,235 1647,243 2094,187 1767,205 2308,177 2311,158 2476,170 2061,316 1246,292 2075,160 2432,260 1722,154 1847,265 2598,158 1886,175 2622,239 1709,199 1223,162 2972,340 2184,235 2084,158 2565,209 2218,230 1925,227 2250,216 1874,224 2137,176 1981,162 2589,167 2209,211 1988,185 1671,170 1977,166 1743,205 2594,215 2291,174 2478,169 2117,243 2263,155 2183,168 1953,188 1950,170 1889,167 1949,202 2245,166 1301,202 2937,328 2456,161 1891,184 1787,163 2504,155 1885,192 2009,170 1836,254 1820,170 2051,154 2017,181 2194,161 2094,159 2148,226 1921,164 3001,180 2915,321 2148,273 2173,153 2358,190 1917,212 2331,169 1853,204 1092,255 2026,172 2342,165 2164,154 2292,157 1621,174 2026,171 2246,154 2256,180 1782,167 1724,173 2211,157 1945,168 2014,165 2219,205 1704,241 1873,170 2716,165 2023,161 2544,167 2414,221 2498,191 1797,230 2008,177 1791,163 2236,156 2054,173 1683,157 2295,262 2112,185 1933,171 2858,162 2232,167 2062,224 2505,157 2279,185 1893,171 2140,189" marker-start="url(#kp)" marker-mid="url(#kp)" marker-end="url(#kp)"/>
<polyline points="1430,207 1497,234 3031,278 849,185 3120,578 2106,205 1862,176 938,176 882,271 1790,223 2912,345 1827,426 2476,171 2360,273 2112,173 988,461 634,210 1609,404 1714,190 2595,198 2974,172 2092,181 1893,227 2057,244 3078,329 3050,555 1309,275 2653,206 852,165 2015,247 2935,353 2243,196 1723,752 1809,172 3049,152 2032,224 1600,441 1788,190 1499,267 1165,232 2362,862 2426,345 1297,324 2434,174 896,367 2858,167 1088,228 2142,561 2047,401 2259,581 1971,161 2730,429 2627,162 862,174 2198,198 1784,227 1072,228 1977,747 3008,395" marker-start="url(#ku)" marker-mid="url(#ku)" marker-end="url(#ku)"/>
<polyline points="1463,258 1276,306 2335,295 1208,335 3271,203 589,261 1472,865 1253,255 3292,203" marker-start="url(#km)" marker-mid="url(#km)" marker-end="url(#km)"/>
<polyline points="1574,216 2975,196 1280,287 2527,299 2868,152 1285,297 1240,152 1084,190" marker-start="url(#kc)" marker-mid="url(#kc)" marker-end="url(#kc)"/>
<polyline points="2254,186 2088,191 2591,194 2286,185 1673,198 2543,178 2163,236 2041,222 1874,197 2220,170 2407,160 2203,169 1710,160 2409,168 2156,167 2612,160 2076,156 2308,183 2119,213 1860,161 1944,176 2033,186 2202,272 1792,229 2162,196 1721,167 1808,178 2631,166 2049,170 2843,162 2180,278 2534,256 2470,182 2100,201 2033,202 2526,160 1934,164 1669,157 2440,168 1980,167 1914,193 2128,173 2367,161 1899,185 2593,166 2341,177 2421,188 2304,162 2513,218 2096,176 1880,212 2237,196 1880,167 1957,157 2216,173 1994,219 1874,177 2554,155 1665,156 2199,170 1960,165 1827,183 2141,163 1636,165 2335,166 2291,189 2485,159 2222,183 2307,176 2421,167 1285,214 2370,216 1922,277 2173,173 2222,248 2036,290 2016,163 2136,174 2506,207 1769,214 2182,222 2252,194 2233,230 2886,317 2920,179 2086,203 2081,158 2184,154 2024,178 1886,176 1744,164 2200,179 2209,229 2087,154 2387,155 2046,216 2441,212 2068,199 2022,171 2225,229 2486,158 1877,156 2245,192 2129,155 2937,321 2853,163 1926,173 1806,164 1816,162 2164,168 1785,167 2074,171 1799,252 1699,172 2042,183 1244,158 2122,161 1875,213 1799,205 2120,218 1969,155 2579,180 2411,173 1612,158 2132,213 2246,164 1854,228 2512,190 2295,208 1712,163 2520,164 2835,157 2427,166 2207,154 2220,176 1683,184 1972,154 2645,173 2363,176 2024,157 2257,205 1874,203 2025,207 1302,200 2031,167 1816,165 1928,213 2039,156 2175,188 2459,198 1833,213 2039,215 2018,154 1959,155 1993,161 2289,178 1969,184 2478,163 1807,156 2232,215 1881,169 2146,179 2023,168 2107,159 2050,173 1656,175 1955,209 2290,176 2076,159 1934,166 2295,156 1840,209 2376,240 2663,169 1949,221 2332,200 2353,168 1886,167 2332,233 1702,163 1811,221 2051,178 2229,182 2045,183 2125,243 1701,201 1112,191 2334,196 2280,179 2939,239 1731,167 2532,205 2176,204 1762,168 2113,196 2214,155 2546,244 2022,194 1773,190 2167,182 2591,274 2868,158 1841,173 2355,164 2134,164 2200,192 1740,157 2063,155 2237,163 2523,170 1753,166 2097,154 1785,193 2178,201 1699,158 1793,176 1785,222 2575,174 2271,266 1802,176 2916,170 2338,234 2375,297 2381,253 2265,186 1912,171 1983,197 2344,154 1805,169 2199,167 2478,166 2117,166 2173,224 2051,227 2133,253 2093,174 2643,207 1732,159 2289,204 2618,217 2176,166 1989,231 2213,155 2029,165 2098,179 2259,154 2025,210 1951,162 1812,193 1296,161 2667,220 2280,182 1931,166 2089,192 2075,166 2009,176 1997,175 2106,166 2362,216 2322,167 1909,170 1790,164 2184,167 1943,161 2307,210 2041,216 1703,178 2130,163 1823,166 1731,170 1762,190 2010,185 1776,198 2622,171 2301,179 2070,197 2600,170 1834,155 2435,171 2530,173 2718,164 1903,170 2360,295 2364,208 2391,154 2349,207 2399,166 1371,162 2261,211 1891,182 1744,177 1720,157 2360,224 1738,164 2046,166 1885,167 1761,191 2530,176 2383,229 1749,194 1754,170 2947,339 1679,172 2216,213 2579,158 1846,189 2048,202 2412,174 1907,157 2583,203 2251,230 2966,324 2340,164 2362,185 1979,176 2187,165 1909,225 2352,171 1924,195 2371,247 2069,219 2413,166 2205,189 2241,225 1928,167 1643,166 2189,188 1906,185 2257,171 2334,158 1778,203 1960,167 1650,156 3100,155 2004,169 2136,166 1804,162 2270,194 2244,224 2318,228 2582,177 2118,181 2448,154 1925,168 2369,201 1777,217 1776,189 1802,169 2288,157 2113,168 2029,190 2212,155 2916,174 1848,207 1729,209 2733,307 2259,160 2104,176 2017,166 2343,170 1974,165 2013,215 1893,185 1900,163 1742,163 2588,171 2339,201 1823,176 2697,178 2197,207 1745,207 2681,166 2866,168 2349,184 2534,200 2238,227 1790,167 2322,192 2621,212 2273,165 2190,252 2224,187 1815,179 2296,168 1732,189 2333,212 2565,199 2318,187 1826,173 2014,172 2025,195 2513,154 1735,172 2660,158 2518,158 2934,314 2127,240 1814,168 1958,167 1960,194 1968,161 2314,161 2295,180 2260,179 2190,182 2150,167 2609,181 2223,187 1860,156 2373,158 1812,206 2256,188 1813,183 2210,155 2354,181 1902,167 2063,160 2070,162 1650,205 2302,156 1872,155 2524,256 1815,161 1964,172 1666,163 2129,175 1759,196 2118,179 2570,171 2500,167 2440,154 2415,191 1808,172 1763,163 1897,169 2464,165 1744,163 2416,171 1989,162 2164,188 2082,157 1881,210 2226,176 1681,188 2536,181 2068,169 1974,164 2199,160 2235,202 2386,165 1773,166 2273,161 2746,217 1777,175 2508,154 2187,210 2784,174 1800,186 2220,218 2668,162 2040,212 1902,173 2322,172" marker-start="url(#kp)" marker-mid="url(#kp)" marker-end="url(#kp)"/>
<polyline points="2069,255 2030,311 2571,204 1899,171 2238,260 1645,212 2149,233 1755,189 2099,221 2267,221 2472,178 2448,157 1894,158 1868,339 1815,223 2900,176 1829,251 2611,164 2149,238 2152,252 1200,193 2777,172 1553,208 2358,268 1994,210 2459,263 2481,221 2270,179 2457,391 1760,252 1806,199 2043,174 2235,172 2848,219 2147,160 2903,171 2032,216 1802,169 2371,200 2129,225 1959,164 2746,196 2107,191 2730,246 2230,232 2256,267 2219,193 1736,254 2034,193 1801,204 1923,165 2692,171 1102,182 1725,173 2010,169 2729,247 2343,210 2266,179 2521,175 2762,187 1419,305 2312,232 2198,273 2450,202 1304,173 1995,226 2138,251 2264,240 2465,162 2602,206 858,167 2093,201 2478,177 1948,176 2913,317 842,175 2123,250 2200,188 2568,171 1420,220 1398,181 2325,180 1811,179 2119,187 1980,319 2263,252 1992,175 1720,177 2334,237 2517,188 2701,208 2114,406 2490,250 2609,159 2281,196 1765,196 2261,168 2797,170 1615,195 2613,268 2819,203 2718,277 2923,199 1878,250 2776,359 2943,173 2585,201 1782,173 1945,182 2191,212 2009,201 2032,194 1939,181 2942,364 1728,215 1125,185 1789,171 2199,258 1424,194 2868,200 1568,204 1787,177 1644,205 2049,194 2347,191 2540,254 2221,198 2305,201 2256,231 1648,205 2740,260 2762,223 1649,215 2204,237 2387,272 2268,164 1956,182 1765,395 1505,217 2288,383 2131,256 1964,174 2908,154 2354,171 2555,158 2367,194 1889,339 2415,194 1752,175 1121,273 2223,196 2010,321 2586,196 1832,196 1867,154 1518,156 1663,198 2350,244 1922,189 1715,173 1629,233 1636,220 2600,171 2922,315 2224,206 2275,227 2569,232 2393,157 1657,178 1560,181 2747,195 1618,346 2565,167 1756,199 2514,389 2303,195 2725,169 2004,178 2376,217 2496,166 2604,203 2451,203 2529,184 2177,209 2226,212 2339,161 2039,212 1283,172 855,223 1763,191 2838,154 1784,211 2398,162 2645,177 2134,301 1582,399 2272,239 1734,259 2326,160 1764,163 2518,180 2806,169 2459,238 2551,172 2245,173 2565,177 862,205 2129,175 1663,183 1557,171 2343,184 1323,261 1792,201 1781,193 1252,199 2185,215 2523,179 2017,192 1691,205 1627,207 1633,245 2213,162 1995,221 1086,171 2951,263 2177,179 2056,162 2221,232 2363,162 2166,242 2501,158 911,181 2165,215 1416,291 2020,203 1837,206 2338,164 2402,168 2140,186 2670,229 2797,154 2389,161 2621,204 2590,155 1808,211 1817,165 2937,181 2741,204 1771,197 1956,217 2261,216 2258,241 2209,207 2557,179 2662,162 2445,198 2110,240 1618,164 2127,202 2939,239 1984,204 2170,168 2265,268 2513,198 2434,201 2922,366 2690,204 2358,201 1629,157 2499,171 1224,226 2389,208 1769,161 2974,186 2270,185 2771,154 2694,168 2625,335 2356,284 2690,195 2151,284 2448,167 1717,168 896,172 1518,168 2581,154 911,218 1954,189 2640,263 2128,274 2405,161 2501,308 2739,154 1788,286 2061,220 2052,163 2112,162 2015,256 2344,226 836,193 2338,164 2013,171 1902,190 2496,303 1826,189 2594,205 2515,176 2919,354 2190,174 2477,184 2040,204 2485,191" marker-start="url(#ko)" marker-mid="url(#ko)" marker-end="url(#ko)"/>
<polyline points="1261,296 1042,166 3149,204 2419,228" marker-start="url(#km)" marker-mid="url(#km)" marker-end="url(#km)"/>
<polyline points="2994,243 1293,348 3290,164 1404,318 1129,200 1913,263 2196,357 2475,174 1778,194 1954,225 721,194 3036,414 2807,403 1495,844 988,393 2465,264 3045,332 2309,228 1895,762 2946,332 2311,240 1972,170 1966,203 1400,264 1756,207 829,178 2714,253 822,204 1955,191 2999,508 1939,216 3051,421 783,199 1014,456 1025,158 1715,197 1112,343 2212,190 2537,158 2268,161 1053,156 2840,649 2046,335 1104,238 1185,264 2648,191 776,174 2362,922 938,248 2722,250 1074,476 980,194 2737,158 3112,566 2153,172 598,254 945,166 818,245 3134,203 876,236 2254,214 2850,277 2208,181 1821,403 2352,275" marker-start="url(#ku)" marker-mid="url(#ku)" marker-end="url(#ku)"/>
<polyline points="2702,204 2529,420 906,153 788,153 871,220" marker-start="url(#kc)" marker-mid="url(#kc)" marker-end="url(#kc)"/>
<polyline points="2363,160 1992,304 2474,168 2116,157 2359,223 1683,165 2034,194 1241,199 1066,161 1928,159 2027,183 1770,220 1790,166 1746,184 1934,168 1996,203 2257,247 2070,215 1214,190 1326,183 2871,195 2315,212 1927,198 2048,178 1799,162 2081,167 1842,191 2092,168 1836,160 2581,180 1928,212 2519,202 2106,155 2266,164 2691,167 1926,315 1723,166 2002,159 2774,179 2290,177 2104,169 2370,179 2955,164 2023,164 1770,181 1745,208 1981,163 1704,163 1804,160 1895,159 2479,166 1767,173 1949,188 2138,167 1735,176 2334,199 1608,171 2018,164 2216,179 2024,180 1920,203 1832,168 2460,190 2909,237 1898,171 2016,165 1800,157 2272,168 2593,168 2285,162 2021,200 2007,219 1995,158 2035,164 2152,171 2015,178 1925,174 2294,177 1972,173 1234,221 1836,172 1371,194 2431,213 1726,154 2557,164 2598,164 2432,235 2919,336 2295,162 2413,175 2488,208 1723,201 2289,160 2381,166 2499,163 2311,183 1915,172 2007,183 2138,169 2365,203 1734,197 1735,179 2604,184 2010,218 1759,210 2037,170 2427,190 1902,170 1936,179 1918,159 1979,164 2357,191 2965,334 1790,156 2311,224 1738,165 2364,155 2062,169 1940,191 2161,154 1886,236 2033,165 2902,197 2360,186 2495,165 1770,172 2010,166 2270,275 2034,159 2140,260 2121,205 2303,163 1845,175 1889,168 2457,166 2451,219 1830,154 1739,187 2235,221 1952,189 1830,210 1792,163 2185,183 1948,178 2270,186 1855,205 1715,186 2638,158 2212,199 2299,181 2269,224 2327,180 2267,257 2243,196 1803,157 1997,156 2897,329 2224,174 2077,193 2338,202 2598,176 2112,239 2416,170 2596,162 2115,160 2300,154 1740,158 2290,178 2567,214 2554,165 2367,170 1272,206 2346,175 2268,169 1860,211 2295,180 2027,167 2009,201 2470,217 2232,180 2266,215 1783,154 1726,206 2219,259 1864,165 2253,169 2431,255 2255,181 2149,200 1924,192 2098,190 2233,236 1738,170 1648,157 1932,171 2048,167 2443,271 2095,203 1659,168 2174,159 2097,186 2212,186 2379,193 1826,224 2524,197 2329,175 1893,224 1797,221 2339,224 1981,219 2188,167 1963,168 2283,221 2047,171 2258,225 2348,205 2308,202 2024,157 2141,196 1760,155 2302,227 2262,165 2731,156 2022,184 2741,182 1933,225 2009,177 2353,200 2231,161 2055,158 2011,155 2011,156 2484,163 2954,173 1997,190 1693,196 1872,174 2261,155 2238,208 1914,163 2913,325 1299,170 2340,196 2468,300 1888,263 2027,231 2036,187 2124,191 1797,172 1787,175 1942,174 2125,171 2313,173 2499,229 1844,179 2518,166 1756,155 2525,247 1899,161 1227,188 1947,167 1893,173 2525,156 2054,179 2861,166 2043,218 1991,166 1652,174 1768,173 2114,180 2338,227 2054,186 1827,201 2924,169 2327,168 2076,198 2590,197 2189,172 1893,177 2077,159 2079,167 1262,223 2398,181 1833,157 2451,199 2162,206 2362,167 2168,183 2002,171 1857,269 1954,188 1763,158 1699,174 1786,161 2146,182 2441,250 2147,162 1957,198 2489,157 2732,167 1728,174 2293,166 1725,157 1914,165 1878,203 2023,165 1961,171 2022,182 2152,206 2019,249 1930,307 2281,280 2463,165 1814,175 2220,176 1820,167 2149,157 2289,209 2354,186 1999,169 2198,168 1879,154 2901,224 2199,164 2333,243 2079,185 1803,180 2112,222 2194,155 2162,165 1673,154 2216,224 1821,219 1721,172 2081,200 2377,212 2282,165 1652,192 2340,221 1702,187 1347,263 2257,174 2235,169 2006,205 1783,194 1965,165 1809,188 1621,167 2346,182 1741,179 1806,154 2315,216 1933,166 1937,266 2019,204 2214,269 2292,163 2034,188 2629,236 1929,211 1287,210 2827,175 2071,252 2327,162 2031,204 2577,176 2468,187 1976,189 1878,204 2187,177 1991,170 1826,158 2124,176 1807,161 2740,166 2446,165 2325,226 2267,203 1684,206 2006,170 1901,198 1946,237 2009,173 2050,173 2675,186 1238,156 2446,205 2409,237 1802,169 2385,163 1831,160 2323,278 1723,185 2089,177 1990,202 1903,185 1812,170 1295,198 2225,210 2033,161 1385,193 2008,186 1075,169 2319,212 1780,170 2108,159 2780,276 1893,158 1725,162 2012,155 1785,156 2035,169 2568,156 1887,210 2433,195 2507,161 2449,154 2373,182 2018,217 2248,192 1980,166 2059,164 2434,229 2581,205 1963,172 1922,163" marker-start="url(#kp)" marker-mid="url(#kp)" marker-end="url(#kp)"/>
<polyline points="2091,245 2500,453 2251,161 1698,223 1909,194 2372,156 2788,233 2669,191 2578,168 2189,228 2447,182 2617,202 2299,284 2452,207 2489,172 1938,196 2018,179 2253,242 2683,162 1903,240 2432,179 2171,154 2120,209 2868,223 2302,241 2336,204 3036,186 2466,169 1156,197 2443,165 2244,288 2576,232 2313,181 2460,161 1937,206 2835,181 2484,206 2567,167 2198,182 2463,193 1454,189 2107,178 2039,210 2202,165 1899,160 2229,235 2372,169 1667,207 2900,286 2238,223 2291,222 1522,273 901,226 1157,188 2495,245 1922,199 2926,267 2207,217 843,180 1734,193 2543,168 2499,261 1806,166 1775,191 925,196 2819,221 892,162 2239,199 1723,186 2003,168 1692,204 1778,174 2272,167 1939,193 2069,239 2321,240 928,198 2916,372 2470,174 2317,202 1801,247 1769,205 2073,219 2262,154 1953,182 2221,251 2721,430 1764,180 2552,236 2638,163 2042,211 1410,271 2051,186 1677,167 1323,275 1980,217 2860,157 2471,156 2956,341 1552,226 1875,208 2849,220 2636,163 1993,198 2936,316 1711,211 873,204 1810,191 2522,180 1386,178 1911,167 2110,223 2198,165 2518,203 1933,196 2279,217 1840,206 2524,173 2753,257 1767,197 2262,240 2090,223 2147,209 1476,226 2340,324 2768,176 2939,210 2372,245 1086,247 2360,162 2689,218 1741,196 1902,302 1332,213 2457,188 2067,186 1683,162 2593,187 1905,196 2188,232 1254,194 1804,212 2472,218 1615,159 1796,197 2148,266 2236,213 2598,172 2030,180 2601,163 2170,274 2051,241 2097,182 2937,211 2009,181 2289,212 2875,208 2926,409 2019,180 2537,157 2493,209 2197,310 1517,156 1935,192 1916,223 2795,348 1808,166 1909,197 2006,250 2944,183 2352,199 1897,231 2889,194 1535,217 2898,175 2163,172 2042,209 2235,279 2360,233 2735,266 2205,164 2508,207 2123,243 2523,160 1580,203 2233,167 2555,206 2566,159 2451,154 2217,184 872,154 2009,181 2718,161 2497,197 2405,167 1541,184 2084,191 2771,172 2576,158 2275,174 1776,197 2611,177 2202,203 2938,304 2594,190 1874,170 1657,156 1929,178 2163,233 1808,154 2497,194 2584,195 1997,176 2719,211 2553,194 2358,223 2336,202 2389,270 2798,207 2464,167 1705,192 1748,198 2248,308 2265,271 2927,171 1754,225 1429,186 1525,206 1953,181 2022,213 1810,187 2010,299 2658,163 1780,206 1679,214 2946,178 2966,233 2163,222 1536,246 2363,195 2045,235 1807,189 2443,203 2434,169 2482,217 2102,179 2103,236 1770,198 2309,174 1682,155 2317,160 2947,358 2411,188 2123,254 2230,255 2675,156 2103,157 2486,248 1921,188 2480,172 1242,226 2138,198 2367,209 2014,203 2504,207 2297,171 2876,167 1819,213 2136,173 1767,190 2537,157 2500,257 2062,189 2933,194 2305,181 1847,162 1640,183 2407,192 2185,247 1511,216 2246,196 2142,228 1674,307 1100,163 1733,199 2413,191 1648,201 1229,186 2097,162 822,162 1357,303 2238,206 2477,160 2669,184 2014,219 1772,188 2892,182 2256,239 889,169 1469,189 2153,233 2510,213 2601,180 2489,190 2271,234 2634,206 1855,328 1799,202 1555,200 1846,204 2225,225 2941,176 1216,180 2493,168 2416,188 2410,162 2864,203 851,203 2916,363 2331,253 1714,197 2133,240 1629,167 2179,224 2231,216 1987,185" marker-start="url(#ko)" marker-mid="url(#ko)" marker-end="url(#ko)"/>
<polyline points="3276,203 765,194 601,257 3018,271 612,248 498,251" marker-start="url(#km)" marker-mid="url(#km)" marker-end="url(#km)"/>
<polyline points="872,217 1819,218 1977,233 1981,689 2955,295 935,379 2917,204 1694,223 1612,405 2232,221 3105,203 2382,160 2093,249 1055,225 1951,238 2867,172 1848,858 2302,220 3014,287 1643,230 2296,288 1777,754 1744,261 2550,159 2300,165 1965,247 2757,182 899,229 2245,281 2917,277 2243,256 1977,211 1605,402 892,374 1797,216 1242,264 2304,222 817,346 2198,375 885,240 1914,241 2945,293 2263,189 1914,626 2564,178 1603,148 2729,247 2954,158 2232,236 2124,292 1619,214 1861,185 2696,243 804,201 2944,170 2526,198 1736,259 2522,213 2235,178 1538,960 2271,164 2536,272 1663,190 2498,222 2282,256 2378,178 2712,287 2139,285 1963,191 2280,769 3026,151 1461,210 1991,207 2931,273 910,264 1761,247 2804,297 2016,216 1961,148 2099,283 2167,239 2955,252 2148,604 2261,574 2191,199 2565,249 951,331 2573,232 2631,238" marker-start="url(#ku)" marker-mid="url(#ku)" marker-end="url(#ku)"/>
<polyline points="1802,212 2906,361 2460,162 2408,230 2011,156 2104,166 2208,172 2221,173 2125,171 2460,210 2315,160 1853,172 2054,169 2441,164 1905,232 1773,164 1783,160 2327,188 1968,195 1900,168 1268,160 1809,162 2564,226 1780,176 2026,175 1374,286 2242,159 2018,165 2741,316 2104,225 2209,175 1842,266 2502,158 2597,201 2071,218 2367,179 1966,168 2667,162 2609,162 2234,184 2353,156 2318,191 2263,250 2455,297 2244,172 1758,176 1753,170 2888,337 2047,203 2074,206 1636,174 2523,252 1808,168 2487,165 1750,166 2020,192 1687,160 1987,165 1745,166 2256,164 2360,197 2372,169 1819,207 2465,214 1746,154 1731,208 2391,163 2435,163 2241,171 2053,194 1786,219 2554,175 2246,158 1891,166 2351,166 1736,165 1900,169 2041,191 2609,204 2280,175 1808,154 1890,173 2346,182 1797,156 2499,206 2443,206 1954,172 2414,215 1909,208 1692,194 1914,200 1797,191 1827,156 2095,174 2360,211 2474,172 2573,167 2576,192 1828,168 1750,192 2856,166 1898,158 2244,226 1680,175 2016,198 2243,248 1912,170 2518,189 1839,265 1995,224 1976,166 2134,215 1300,156 1671,162 2027,159 2362,181 2462,167 2256,166 1801,181 1997,177 2278,175 2115,167 1121,178 2448,155 2088,211 1985,181 2119,193 1633,185 1799,159 1651,177 1961,173 1902,211 2491,156 2069,174 2040,214 2320,175 2390,180 2123,259 1937,163 2278,211 2038,187 2424,154 1725,181 1897,194 2032,180 2349,218 2253,204 2306,255 2348,228 2371,157 2283,237 2310,165 1728,171 2816,161 2503,164 2233,175 1664,158 2366,204 1954,158 2502,187 2419,173 1890,164 1988,214 2148,332 2156,159 1282,214 1954,176 2307,236 1244,188 1990,163 1701,172 2741,183 2483,229 1906,207 2164,193 1833,171 1887,183 2103,223 1914,159 2014,168 1897,159 2036,228 1827,154 2388,255 2062,175 2039,161 1881,201 1673,225 1830,167 2196,165 1652,179 3079,180 1874,184 2051,154 2177,246 2824,171 2667,216 2105,196 1753,166 2090,161 2499,163 2027,224 1741,157 1906,178 2069,197 2395,208 2145,240 1840,205 1671,225 2285,196 2642,165 2427,300 2081,163 2446,226 2342,167 1442,173 2198,247 2198,201 2190,165 2256,168 1771,187 2175,173 1838,262 2064,295 2256,175 2864,160 2218,166 1926,154 2404,163 2022,157 1795,165 1882,172 2737,226 2407,162 1900,191 2152,209 2242,167 2381,168 2064,160 2475,169 2183,234 2061,166 2578,200 1755,169 1808,167 2072,185 2239,168 2270,227 2064,157 3093,183 2369,201 2221,238 2208,166 1839,219 2091,176 2725,163 1814,167 2094,234 1830,169 1785,157 2738,214 2439,197 2525,169 2733,164 2568,216 1951,207 2289,195 2309,214 1921,199 1670,196 2138,160 2040,205 2099,162 1786,220 2291,204 1761,172 2326,225 1778,168 1674,157 2009,170 1714,185 2461,167 2137,179 2174,176 1972,178 1815,179 1963,179 2052,185 2511,163 2906,326 2134,231 1800,185 2052,166 2520,168 2431,161 2447,201 1943,207 1305,210 2033,175 2486,161 1268,198 2113,168 2447,168 2555,176 2093,232 2339,191 2260,178 2245,184 2342,173 1765,158 2766,154 2323,205 1789,181 1749,173 1974,230 1723,154 2218,173 2561,173 2017,168 2224,167 1925,215 2659,187 1822,279 1916,154 1793,186 2291,166 2547,166 2892,316 2033,158 1759,156 2054,203 1823,170 1719,234 1788,168 2090,235 2050,165 2353,209 2597,164 2028,160 1787,218 1678,154 2219,201 2162,255 1877,174 2295,170 2263,202 1877,168 2461,201 2008,220 2375,200 2167,178 2315,186 2335,206 1807,297 1708,209 2076,239 2274,167 2004,154 1315,181 2507,165 2199,182 2101,172 2337,192 2410,156 2506,177 1810,228 2424,155 2212,170 2262,163 2593,170 1832,169 2853,160 1777,169 1938,190 2186,179 1694,154 2428,236 2601,240 1966,172 2022,196 2367,199 1965,220 2392,171 2163,289 1894,165 2565,180 2207,178 2316,167 1867,160 2349,215 2121,177 2370,182 1905,226 1816,335 1626,161 2423,154 2658,213 2908,154 1678,159 1721,197 2198,249 2057,159 2064,154 2434,161 2029,165 2022,193 2358,305 2132,212 2571,164 2012,184 2207,163 2205,247 2253,231 2275,161 1747,156 2191,181 2168,170 2022,166 1749,156 1998,166 1951,213 2137,378 1845,220 1732,196 1744,209 2710,262 2059,174 2026,205 2047,172 2116,177 2200,177 2099,186 2298,162 2536,262 2207,184 1797,165 1786,158 1999,200 2517,225 2404,154 2016,200 1840,229 2891,165 2457,279" marker-start="url(#kp)" marker-mid="url(#kp)" marker-end="url(#kp)"/>
<polyline points="2423,257 1268,179" marker-start="url(#km)" marker-mid="url(#km)" marker-end="url(#km)"/>
<polyline points="2023,232 2824,190 2257,755 2156,166 2610,503 1888,206 1815,249 2210,191 2469,232 2712,241 2348,742 2231,206 2770,264 2110,198 1740,218 1617,340 2459,269 1153,172 2242,176 1970,195 1874,226 2398,243 839,204 2624,204 1014,164 2878,309 2260,338 888,256 1336,376 2069,315 915,303 3095,319 2076,202 2529,241 1111,348 1593,385 2190,549 2153,174 3216,678 1574,475 2011,659 2820,238 2520,327 2973,229 1622,295 2104,309 1831,148 2941,222 2020,249 2966,225 1890,251 2105,204 2999,392 1775,150 889,215 3010,292 2200,346 1629,190 1961,400 2475,192 2031,174 2436,188 2402,171 1726,754 2919,230 2958,255 938,483 2527,305 2922,315 2840,597 2247,309" marker-start="url(#ku)" marker-mid="url(#ku)" marker-end="url(#ku)"/>
<polyline points="2432,201 2391,169 1993,171 2604,211 1882,217 2443,178 2091,266 2572,158 2847,179 942,175 2278,168 1590,216 2075,237 2914,190 2407,168 859,211 2413,174 2319,297 1860,193 2643,154 1469,309 2583,246 2310,179 1652,170 2097,250 2046,237 2595,199 856,213 2313,178 2598,204 2752,242 2325,216 2499,249 2221,187 2708,170 2436,188 865,258 2035,179 2722,232 2108,210 2057,259 2372,279 1862,186 2285,205 2554,195 1702,185 2549,223 2372,221 2441,205 2416,167 923,223 1658,217 1784,183 1273,225 2646,164 2004,196 1682,194 850,176 2924,213 1349,190 2094,242 2151,220 2672,184 2335,257 2097,188 2412,185 2255,232 1228,248 2461,189 1640,376 1996,202 2213,193 2226,200 1890,238 1785,196 2015,172 2870,173 1156,178 2292,191 2606,210 2125,172 2272,262 2073,180 2902,179 2577,182 2940,246 2731,228 1844,179 2462,189 2936,251 1726,175 808,172 1700,220 1785,205 1207,219 1448,183 1503,247 2067,345 2965,316 2409,165 2261,226 2302,175 2093,253 1714,175 928,198 2098,224 1885,222 2308,263 2743,193 2627,165 1987,311 2181,180 2115,169 1718,225 2200,225 2388,194 2081,185 1955,187 1123,154 1791,358 2098,184 2402,214 2177,226 1736,247 2216,168 1871,208 2469,229 2975,174 2358,197 2280,210 2714,246 1903,191 2110,179 2085,197 1791,192 2531,225 1985,173 2010,228 2942,161 2231,226 2824,220 2029,183 1979,228 2025,215 2209,205 2860,222 2571,294 2293,204 2339,245 2910,251 2583,169 2313,206 1135,191 2624,223 1635,191 1658,217 2930,333 2400,226 2355,241 1830,154 2007,207 842,164 1671,198 2390,188 2459,282 2043,255 2015,194 2147,166 2019,194 1759,245 1804,221 2477,219 2310,300 2190,222 898,224 1509,208 2310,200 2144,201 2003,189 2053,176 2714,165 2681,179 1781,217 2176,221 2258,232 1435,232 2049,198 2221,214 1881,154 1897,217 2556,156 2223,192 2608,161 800,232 2197,179 3172,185 2542,176 2949,294 2460,259 1402,162 920,201 2370,196 2318,208 2502,307 1199,188 2914,264 2848,158 2928,302 2304,201 2267,176 2822,260 2201,229 2472,161 2653,229 2205,221 2247,185 1233,210 2437,157 2290,181 2604,208 2006,204 1994,214 2375,208 2181,229 2962,357 2970,227 2249,196 2459,186 895,166 2072,236 1874,236 2578,158 1625,225 2317,221 2266,155 1945,257 2715,171 1932,174 1756,165 1943,202 1810,164 2914,216 2444,200 927,187 2015,204 2214,220 2015,184 1454,177 2320,164 2513,189 1098,277 2337,258 1820,204 2549,193 2550,196 2099,236 2064,231 2576,208 2364,211 2525,247 2464,210 2553,171 2191,241 2109,198 2962,174 2750,196 1316,268 2892,191 2195,211 2220,203 2219,220 2573,186 1628,191 2658,191 2004,200 1436,176 2226,248 2176,280 2233,193 2119,274 2053,205 829,218 1782,188 2440,206 2152,209 1149,159 2705,178 2060,199 2635,162 2569,202 1733,216 2116,205 2406,216 2408,161 2209,205 2458,189 2084,197 2026,197 2569,230 1898,199 1689,186 2900,181 2118,208 2852,164 2138,177 2108,176 2621,190 2550,193 2829,219 1503,180 2421,167 2266,189 2237,172 2260,181 2685,185 1979,318 2231,249 2528,164 1801,200 2415,177 2062,176 2206,248 1862,194 2380,194" marker-start="url(#ko)" marker-mid="url(#ko)" marker-end="url(#ko)"/>
<polyline points="1765,281 1691,232 899,153 2949,182 1478,200 1117,218 3014,435 1528,251 2277,631 805,308 2620,150" marker-start="url(#kc)" marker-mid="url(#kc)" marker-end="url(#kc)"/>
<polyline points="1789,176 1947,169 2048,209 2405,231 2745,162 1942,167 2243,176 1709,162 2345,176 1117,190 2013,153 2194,187 1814,208 1735,155 2346,171 1220,215 2538,167 2556,154 1724,199 2380,177 1718,160 2004,172 1854,175 2321,232 1806,179 1823,187 2205,208 2722,177 2843,182 2220,222 2799,204 2064,166 1702,192 1971,184 2151,156 2356,232 2463,156 2357,253 1943,154 2306,168 2415,163 1735,160 2217,254 2063,171 1960,168 1854,193 2229,154 1791,202 1924,155 2003,158 2007,162 2002,184 2222,162 1759,174 2207,232 2027,218 1985,198 1904,169 2533,169 1721,187 1838,156 1968,160 2445,166 1727,162 1900,175 2342,156 2357,221 2374,155 2020,176 2292,280 2522,179 2138,173 1828,165 1997,223 1673,169 2090,159 2223,158 1887,165 1830,156 2109,166 2588,270 2305,164 1865,168 2038,181 2058,175 2869,178 2004,175 1899,171 2312,160 1776,171 1785,168 2216,359 2175,215 1775,157 2235,221 2055,154 1729,166 2360,219 2501,211 2316,157 2241,199 1634,168 1775,193 2241,191 2185,264 2378,168 2056,179 1653,159 1760,214 1946,168 1921,222 2150,169 1901,177 1738,154 2134,276 1828,214 2148,202 2200,234 1862,164 1711,165 2335,183 2965,320 2337,172 2553,163 2060,199 2026,192 2280,238 2223,176 2490,212 2442,197 2069,202 2065,166 2106,274 2615,242 1682,185 1790,162 2582,198 2259,196 2434,182 1996,194 1819,167 1662,211 2258,170 2515,222 1792,185 1757,156 1634,162 1922,182 1293,218 1786,203 1776,155 2491,189 1799,164 1775,263 1665,154 2401,166 2317,188 1684,181 2250,253 2403,155 2248,162 2791,162 1970,198 2118,229 2348,182 2460,155 1933,172 1724,172 2938,168 2031,159 2420,166 1788,173 2260,210 1058,174 1888,229 2211,223 1809,203 1790,199 2478,278 2052,157 2454,170 1920,197 1896,189 2321,202 2449,174 2564,177 2471,170 2366,174 2015,160 1930,157 1926,303 1780,169 2051,154 2563,167 1776,284 2370,170 2243,166 2093,169 2100,174 1187,214 2029,213 1835,156 2167,225 2016,314 1922,155 1965,211 1832,216 2652,213 2045,212 1947,178 2918,180 2107,164 1707,177 2072,179 2094,184 1804,196 1215,185 1876,173 1941,190 2466,208 2131,159 2223,167 1695,183 1740,221 1790,160 2006,179 1710,186 2086,220 1912,241 2088,160 2130,173 2307,158 2095,180 2221,223 2136,172 1898,204 2483,161 2126,212 1114,191 1892,172 2193,171 1963,180 1701,202 2111,161 2942,226 1948,154 2351,215 2387,166 2286,252 1822,194 2593,167 2183,258 2737,157 1793,201 1804,231 2109,162 1787,166 1819,154 2310,171 2418,206 2274,213 2172,171 2577,201 1881,181 1761,265 2014,165 1716,158 2099,172 2244,215 2066,228 2316,198 1906,233 2117,174 1881,171 2559,172 1989,192 2090,167 2595,159 1761,174 2492,158 2332,172 1765,165 1914,178 1768,206 2285,166 1919,169 2779,187 1802,173 2268,180 2118,163 1794,192 1746,182 1714,195 2321,233 1932,156 2440,251 2258,252 2014,175 2198,275 2097,195 1909,209 2075,192 2113,223 2023,164 2039,172 2251,155 2193,159 1892,206 1684,154 1991,154 2093,172 2319,159 1786,166 1721,179 2458,164 2935,339 1688,163 2262,267 1850,158 1776,173 2832,188 2421,220 2285,166 1687,193 1831,172 2570,165 2184,246 2258,197 1780,155 2315,170 2192,195 1780,167 1988,199 1770,213 2024,163 2340,168 2590,282 1728,189 2414,223 1995,215 2116,155 2331,170 1759,164 2003,193 1915,171 1895,180 2024,179 1804,160 2261,164 2442,170 2610,156 1830,203 1747,212 2235,165 1829,277 2529,205 2206,176 2513,162 2578,202 2235,180 2081,203 2013,182 2072,164 2181,174 2892,344 2321,156 2068,165 2015,168 1912,219 2265,166 1850,238 2204,205 1904,164 1285,159 2093,201 2079,156 2456,271 2142,181 2354,226 1702,160 1720,267 2281,202 2847,195 2165,195 2020,180 1864,221 1675,170 833,156 2765,164 1742,205 2156,154 1988,193 2133,203 1923,163 1151,194 1863,177 2426,183 1865,161 2660,161 2087,162 2080,154 1929,172 2107,160 2286,156 1961,167 2885,169 2077,153 2519,166 2185,168 1937,161 2113,196 850,171 1673,162 1783,170 2360,165 2330,234 1806,198 2337,177 2077,167 2532,206 2185,161 2359,224 2019,220 1866,209 2395,177 1769,188 2344,192 2464,163 2061,158 2009,215 1982,210 2348,157 1257,191 2461,155 1826,170 1943,158 2120,201 2207,162 2081,224 2168,231 1731,171 1945,224 2288,253 1849,154 1737,158 1864,200 1291,155 2124,177 1956,164 1899,195 2495,164 2490,166 2196,178 1647,260 2392,243 1861,211 1965,165 2400,156 1689,216 1740,164 2167,161" marker-start="url(#kp)" marker-mid="url(#kp)" marker-end="url(#kp)"/>
<polyline points="1040,197 2178,148 2988,200 2236,256 846,184" marker-start="url(#kc)" marker-mid="url(#kc)" marker-end="url(#kc)"/>
<polyline points="1798,210 1877,185 1623,180 1808,170 2514,159 2830,223 1730,214 2252,200 2950,163 2296,239 2908,253 2516,155 2860,175 889,361 2044,180 1729,220 1871,229 2306,252 2391,179 2229,210 1989,224 2253,173 1255,202 2553,196 2314,185 2127,230 1714,228 1801,181 2255,235 2103,201 2911,356 1897,161 2317,185 2356,254 2929,411 2940,244 2091,161 2171,201 2015,192 1289,309 2141,211 1757,202 2364,206 926,195 1307,253 2944,175 2438,209 2393,157 2389,220 2129,201 2233,189 2438,182 1813,215 2209,179 2832,163 2231,218 2070,180 2913,175 1672,255 2322,216 2498,196 2923,358 2430,226 2964,275 2017,357 1821,178 1831,193 1310,253 2517,217 2352,212 2038,213 2253,170 2892,197 2554,182 1921,184 1596,159 1576,240 2922,232 2120,171 2468,220 1958,189 1143,307 1925,218 2067,224 2894,193 2494,213 2105,184 2269,219 1618,188 2247,241 1892,231 2298,251 2403,206 2268,258 1812,204 2487,155 2994,197 3105,153 2520,193 2901,173 1498,307 1355,196 1898,235 2693,160 2033,223 1877,235 2264,206 2298,216 2549,171 1229,206 2051,182 2292,248 2607,160 2120,168 2159,229 1473,267 2384,196 2119,212 1579,176 1976,226 2224,226 2983,364 2136,159 2545,210 2179,211 2124,208 1183,164 1120,270 1462,196 1144,181 1133,162 2002,161 1316,209 2957,185 2469,178 2326,258 1390,185 2797,169 2627,204 2213,243 1937,164 1929,164 1701,203 1137,309 1939,215 1466,170 2461,231 2395,181 2752,200 2601,188 3174,188 1913,179 2237,172 2586,155 2048,255 1310,226 2529,221 1699,204 2523,154 1779,209 2415,181 2468,260 1760,299 2511,234 2326,226 2002,187 2987,423 1910,188 1777,209 2282,219 2486,158 2001,215 1925,163 1938,198 2151,223 1745,191 1839,236 2475,170 2195,269 1329,206 1901,171 1759,182 1624,250 2171,232 2135,169 2953,244 2509,170 2831,226 1768,196 2230,218 1320,203 2396,305 2608,175 2483,240 2616,211 2480,175 1828,224 2707,197 1689,199 1768,196 1863,213 1815,161 2576,163 1905,210 2368,223 1740,238 2233,239 2888,354 2781,177 1229,336 2884,170 2231,189 2383,178 2406,216 848,220 1754,228 2250,203 2165,193 2199,200 2766,175 2900,181 1335,249 2284,191 2181,250 906,211 2538,213 2442,172 1209,174 2170,238 1520,197 2449,197 2328,242 2360,193 2007,203 2925,334 1765,276 2384,227 1776,214 1079,157 2663,229 2124,209 2456,301 2860,264 1598,202 2501,156 2307,231 1560,201 1161,186 1811,170 2526,219 1925,183 2945,296 2345,178 2054,170 2300,223 2751,166 1803,176 2658,214 2901,350 2738,334 1757,217 2022,196 2403,236 1837,192 2830,220 1708,184 2478,341 2312,160 1922,235 2118,215 2552,209 2018,159 2987,407 2932,177 2139,352 2937,362" marker-start="url(#ko)" marker-mid="url(#ko)" marker-end="url(#ko)"/>
<polyline points="1470,327 1155,323 1629,266 2249,200 2050,188 2504,204 1728,236 2114,213 2027,226 1979,283 2221,335 3254,462 2878,176 1572,199 1821,196 2595,193 2200,262 1730,192 2868,173 1632,271 2073,254 786,185 2557,163 878,211 769,178 1601,162 2273,307 1816,215 2929,210 2248,187 2605,166 2232,190 3062,377 2080,236 2946,214 1890,176 2597,194 2885,321 1256,178 1477,259 593,240 2408,170 3150,471 2605,339 1534,259 882,237 2227,219 1831,172 1778,183 1405,321 1613,194 2280,313 2488,222 3050,561 2492,343 1951,150 2838,200 2716,245 1974,252 1829,269 2001,162 1811,271 1542,238 1798,224 2385,212 1783,230 2150,178 1809,230 1663,202 783,176 876,257 1821,259 698,155 2567,220 2957,237 2964,301 1756,263 2848,204 2178,578 2885,271 896,247 1131,270 1185,922 2148,243 2301,257 2193,258 3076,240 2901,277 3012,345 1471,877 2210,309 2686,234 2270,291 2675,171 2253,186 1440,170 2367,269 2658,253 2700,188 2270,786 928,377 2099,208 1951,166 2725,238 1687,216 1730,208 3010,241" marker-start="url(#ku)" marker-mid="url(#ku)" marker-end="url(#ku)"/>
<polyline points="1602,186 2878,325 592,254" marker-start="url(#km)" marker-mid="url(#km)" marker-end="url(#km)"/>
<polyline points="1255,1040 3242,203" marker-start="url(#km)" marker-mid="url(#km)" marker-end="url(#km)"/>
<polyline points="2398,429 2959,397 732,222 2318,236 1568,180 1886,163 3016,371 2822,156 3066,174 1376,378" marker-start="url(#kc)" marker-mid="url(#kc)" marker-end="url(#kc)"/>
<polyline points="2279,225 2578,187 2959,282 2039,220 2173,246 2277,213 2033,195 1866,200 2325,169 2309,217 2122,184 2175,232 2555,158 2242,224 2223,237 2973,251 2095,198 2947,209 2362,218 2241,177 1729,214 956,172 2191,216 2482,157 2676,431 1977,228 1264,164 2586,186 2555,166 2558,174 851,170 1440,191 1638,228 1559,222 1784,232 2012,224 2121,300 2226,229 2273,267 2267,211 2315,266 1802,247 2080,202 1787,234 1832,182 2168,190 2093,232 2780,214 2236,161 2806,160 2103,186 2066,223 1542,214 2301,172 1719,188 1806,193 2259,186 2030,204 815,180 2006,201 2928,357 2135,264 2959,245 1570,189 1642,208 2529,178 1924,197 1806,159 1968,220 2452,156 2353,213 1760,199 2449,298 2560,173 2193,190 1689,178 2537,219 1979,228 2600,206 1761,181 2757,284 2616,198 2311,180 2271,234 2573,168 2549,205 2322,228 2346,164 2603,168 1732,178 2939,331 1579,211 2528,201 2386,200 2387,169 2824,161 1623,214 2790,167 1754,197 2468,154 1805,228 2142,172 1924,207 2001,207 2410,219 2464,388 2402,207 2326,162 1505,181 1798,157 1426,190 2305,213 2777,182 1797,154 2590,183 1481,232 1940,231 1694,206 1857,161 2543,156 2427,171 1095,263 2315,235 2499,166 2000,257 2894,373 1798,207 2952,176 2127,224 892,275 1736,172 3026,172 2689,154 1807,186 2146,221 2026,166 2249,190 2553,179 2389,262 2115,251 2247,255 2056,305 2325,184 1720,217 2376,169 2232,164 900,155 872,191 1377,223 2128,187 2353,242 2202,184 1810,194 1821,154 906,268 2335,193 2896,227 1634,423 2095,221 2166,157 2145,170 2507,172 2284,182 1945,213 1901,173 854,227 2038,215 1616,193 2898,317 2513,201 2176,162 1790,168 1816,183 1799,181 2252,173 1318,276 2674,178 2182,188 2000,208 1780,207 2963,443 1938,255 2115,189 1803,191 2456,174 2172,165 2023,177 2164,257 2523,338 1569,279 1572,209 2157,250 2524,171 2223,202 1985,209 2187,191 2493,160 2173,240 2795,223 2506,214 2288,180 2914,169 2202,277 2636,170 2480,223 2690,174 1590,225 2195,245 2111,228 1281,353 2522,172 2948,293 2907,161 2795,158 2714,183 2794,184 2955,375 1899,209 2131,156 2590,207 2552,204 1519,230 1826,175 1801,185 1856,190 2798,164 2471,204 2197,197 1895,171 1612,179 1970,223 1791,192 2000,233 1927,189 1863,222 2291,245 1813,171 2027,178 2570,177 2122,159 1608,182 2125,276 2255,184 1298,172 2128,156 2452,174 2306,232 2332,172 2402,161 1924,201 1789,189 2921,360 1388,212 843,180 3195,153 1693,168 1391,186 2974,224 2226,186 2318,266 2283,223 2616,162 1817,182 2886,168 1630,414 2098,273 2405,217 1671,244 2731,213 1908,226 2246,208 1739,218 2226,191 2146,159 2155,241 2786,174 909,185 2446,292 2114,213 1812,173 1915,208 1635,173 1920,211 2610,165 2166,175 1919,182 1611,411 2421,173 2636,267 2264,160 1592,195 2220,240 2483,226 2580,228 2383,252 2473,159 2228,220 2122,166 2102,216 2532,179 2584,173 1779,155 885,268 2298,229 2467,338 2177,191 2141,219 2874,291 1749,221 2007,352 2395,210 2921,342 1712,197 2299,160 2666,189 2661,163 1723,205 1866,249 1668,251 1792,282 2508,171 2048,201 1737,212 2740,157 2146,235 2892,235 2274,219 1605,412 2293,193" marker-start="url(#ko)" marker-mid="url(#ko)" marker-end="url(#ko)"/>
<polyline points="2282,533 2172,247 1777,271 871,292 2404,206 2801,435 1554,243 2944,228 1805,241 2458,169 1627,230 1927,212 1416,196 2488,234 2409,253 1732,157 1913,203 1010,199 698,153 2810,263 2387,207 1182,156 1940,318 765,155 1548,263 1689,216 2109,169 1880,269 2236,216 2712,425 2953,262 1595,281 1931,711 2301,176 2539,175 2002,215 1283,226 1806,168 2712,248 3087,521 2150,223 1957,265 2342,263 892,349 865,202 876,301 846,222 2372,388 2014,204 2774,301 1298,152 1975,167 2516,194 1218,250 2706,255 1861,662 1892,169 1950,173 2919,346 3094,561 1100,230 2036,231 2141,233 2185,235 2101,269 2016,249 2340,158 3404,795 2436,176 1840,285 864,190 2856,170 1745,203 2431,158 1862,695 839,257 2239,210 2102,208 2758,238 2156,309 2431,243 2123,188 2859,175 2298,148 2743,249 2473,208 1920,194" marker-start="url(#ku)" marker-mid="url(#ku)" marker-end="url(#ku)"/>
<polyline points="2320,156 2248,204 2076,208 1703,178 1678,212 2569,154 1710,193 2356,227 2048,166 2474,155 1929,202 1691,182 1909,176 1628,182 1642,182 2252,192 2071,171 1291,161 2044,228 2328,211 1779,223 2315,193 1678,159 2258,238 1680,164 2239,175 2086,199 2423,162 1682,210 2317,167 2249,161 2095,160 2274,167 2108,182 1995,169 2937,194 2046,154 1771,182 2316,154 2051,302 2162,194 2188,174 1783,155 1798,164 2580,193 2558,213 2198,222 2081,175 2300,212 2290,167 1665,174 2591,213 1933,157 2874,232 2564,157 2524,228 1799,276 2489,213 1736,154 2221,165 1901,208 2031,169 2080,168 3160,176 1768,171 2312,175 1268,214 2053,215 2125,172 2318,163 2039,155 1922,184 2366,186 1813,177 2159,178 1306,187 2295,168 1826,164 1928,158 1935,157 1858,168 2200,276 1977,205 1845,155 1802,195 1787,186 2624,164 2376,173 2571,154 1723,176 1733,156 2571,157 2036,185 2448,169 1925,164 1332,187 1776,156 2626,165 2576,170 1888,203 2766,191 1935,173 1873,175 2067,175 2246,191 1768,162 2674,167 1299,190 2330,220 1790,168 1910,161 2333,214 1797,171 2072,172 1758,188 2040,170 2108,171 1862,231 2086,169 2432,156 2199,175 2050,163 2587,166 1725,197 1649,187 2271,229 1722,167 2167,192 1287,155 2136,179 2098,212 2023,200 1772,173 2317,203 2888,299 2074,166 2467,183 2475,159 2125,171 2047,175 1798,166 1966,181 1920,232 1308,178 2231,174 2246,284 2022,174 1781,225 2326,155 2566,238 1845,269 2923,160 1706,172 2324,167 2340,154 2076,162 2447,197 2126,184 2430,193 2326,164 2259,216 1857,267 2501,160 1839,214 2147,169 2244,259 1750,165 2027,165 2028,154 2312,166 1825,217 2137,171 2292,166 2110,163 1890,169 1444,164 2191,154 1929,198 1758,156 2033,186 2249,256 1907,242 2952,328 2014,217 2066,163 2018,214 2524,163 2325,226 2288,197 2287,180 2271,157 1729,198 1795,179 2580,161 1850,175 2327,232 2272,182 1949,238 1842,215 2019,220 2073,218 2459,178 1706,170 2099,297 2104,178 2216,225 2149,188 2056,216 2043,184 1677,155 2273,169 2093,171 2002,192 2902,166 1913,212 1842,172 2322,163 2546,260 1711,158 1649,164 1929,295 2080,167 1784,183 1268,203 2891,216 2150,194 2432,182 1907,178 1807,210 2524,154 1914,166 2467,286 1962,174 2514,203 2005,174 1755,213 2270,174 1879,201 2426,173 2450,157 2158,217 2281,211 2840,167 2425,186 2353,164 2079,212 2607,205 1773,164 2574,163 2317,275 2027,154 2452,274 1774,232 1890,220 1966,183 2028,159 1936,167 2371,235 2566,163 2043,208 2045,175 2726,158 2222,159 1765,162 2341,182 2884,173 1607,155 2593,200 2856,164 2034,181 2164,186 2427,262 1993,196 1894,165 1926,165 1857,162 2563,162 2003,175 2184,183 1805,161 1996,211 2089,172 2442,155 2124,159 2185,232 1726,215 2024,184 2520,155 2364,227 1835,175 1932,175 2381,204 1878,155 2485,168 2367,161 1632,166 1730,168 2049,168 2304,166 2905,315 2137,166 1787,202 1956,203 2241,173 2286,162 2812,173 1801,178 1838,169 2318,171 2926,364 1938,200 2285,161 1812,157 1907,166 2420,218 2966,319 2449,176 1929,208 2015,182 2358,175 2199,177 1710,191 1166,175 2337,238 2002,190 2548,195 2500,262 2292,211 2052,213 1746,178 2118,175 1755,190 2360,173 1889,194 2010,182 2285,230 2239,251 1765,205 1737,167 1853,166 1894,194 2512,167 2602,157 1753,164 2221,154 2127,195 2283,270 1904,184 2164,187 2033,210 2121,215 2027,203 1669,192 2271,193 2516,208 1960,157 2191,167 1818,172 1798,154 1817,189 2129,169 1902,221 2285,162 2179,206 1804,208 2150,165 1662,166 2357,243 1786,172 2097,154 2042,174 1714,199 2258,196 2273,155 2131,201 1899,187 2245,172 2108,211 1685,206 2003,222 1982,197 2129,178 2575,204 1900,168 2243,172 2164,157 2067,159 1890,197 2000,165 2743,215 2000,219 2092,171 2080,179 2080,225 2221,193 2277,169 2463,164 2322,189 1948,170 1822,217 1731,154 2009,164 2250,167 2725,162 1819,157 2349,203 1844,162 2034,209 2274,165 2261,197 1866,223 2368,241 2017,180 2302,182 2113,171 1816,173 1694,200 2083,158" marker-start="url(#kp)" marker-mid="url(#kp)" marker-end="url(#kp)"/>
</g>
</g>
<path d="M371.40 1085.45V109.4M926.62 1085.45V109.4M1481.85 1085.45V109.4M2037.07 1085.45V109.4M2592.30 1085.45V109.4M3147.53 1085.45V109.4M236.4 153.45H3555.4M236.4 320.07H3555.4M236.4 486.70H3555.4M236.4 653.32H3555.4M236.4 819.95H3555.4M236.4 986.57H3555.4" stroke="#b0b0b0" stroke-width="3.333" fill="none"/>
<path d="M866.99 1085.45V109.4" stroke="#0000ff" stroke-width="4.167" stroke-dasharray="15.42 6.67" fill="none"/>
<path d="M1593.06 1085.45V109.4" stroke="#808080" stroke-width="4.167" stroke-dasharray="15.42 6.67" fill="none"/>
<path d="M1835.08 1085.45V109.4" stroke="#008000" stroke-width="4.167" stroke-dasharray="15.42 6.67" fill="none"/>
<path d="M2113.03 1085.45V109.4" stroke="#0000ff" stroke-width="4.167" stroke-dasharray="15.42 6.67" fill="none"/>
<path d="M2381.98 1085.45V109.4" stroke="#ff0000" stroke-width="4.167" stroke-dasharray="15.42 6.67" fill="none"/>
<path d="M2967.97 1085.45V109.4" stroke="#008000" stroke-width="4.167" stroke-dasharray="15.42 6.67" fill="none"/>
<path d="M3206.05 1085.45V109.4" stroke="#808080" stroke-width="4.167" stroke-dasharray="15.42 6.67" fill="none"/>
<rect x="256" y="746.7" width="370.2" height="316.9" rx="8.3" fill="#fff" fill-opacity="0.8" stroke="#ccc" stroke-opacity="0.8" stroke-width="4.167"/><rect x="271.1" y="765.1" width="87" height="32.7" fill="#e497b2"/><text y="796.00" font-size="43.8" text-anchor="middle"><tspan x="408.9">M</tspan><tspan x="452.7">&lt;</tspan><tspan x="489.0">1</tspan></text><rect x="271.1" y="825.8" width="87" height="32.7" fill="#7b8c42"/><text y="856.75" font-size="43.8" text-anchor="middle"><tspan x="400.5">1</tspan><tspan x="441.3">&lt;</tspan><tspan x="470.0">=</tspan><tspan x="514.1">M</tspan><tspan x="558.1">&lt;</tspan><tspan x="597.2">2</tspan></text><rect x="271.1" y="886.5" width="87" height="32.7" fill="#6f58a3"/><text y="917.50" font-size="43.8" text-anchor="middle"><tspan x="403.2">2</tspan><tspan x="441.3">&lt;</tspan><tspan x="470.0">=</tspan><tspan x="514.1">M</tspan><tspan x="558.1">&lt;</tspan><tspan x="596.7">4</tspan></text><rect x="271.1" y="947.0" width="87" height="33.8" fill="#b24b96"/><text y="978.25" font-size="43.8" text-anchor="middle"><tspan x="403.2">4</tspan><tspan x="441.3">&lt;</tspan><tspan x="470.0">=</tspan><tspan x="514.1">M</tspan><tspan x="558.1">&lt;</tspan><tspan x="597.0">6</tspan></text><rect x="271.1" y="1007.9" width="87" height="32.7" fill="#a01e40"/><text y="1039.00" font-size="43.8" text-anchor="middle"><tspan x="408.9">M</tspan><tspan x="453.0">&gt;</tspan><tspan x="481.6">=</tspan><tspan x="520.3">6</tspan></text>
<rect x="236.4" y="109.4" width="3319.0" height="976.0500000000001" fill="none" stroke="#000" stroke-width="3.333"/>
<path d="M371.40 1085.45v14.58M926.62 1085.45v14.58M1481.85 1085.45v14.58M2037.07 1085.45v14.58M2592.30 1085.45v14.58M3147.53 1085.45v14.58M236.4 153.45h-14.58M236.4 320.07h-14.58M236.4 486.70h-14.58M236.4 653.32h-14.58M236.4 819.95h-14.58M236.4 986.57h-14.58" stroke="#000" stroke-width="3.333" fill="none"/>
<text x="372.15" y="1147.40" text-anchor="middle" font-size="44.0" letter-spacing="1.5">20</text><text x="927.38" y="1147.40" text-anchor="middle" font-size="44.0" letter-spacing="1.5">25</text><text x="1482.60" y="1147.40" text-anchor="middle" font-size="44.0" letter-spacing="1.5">30</text><text x="2037.82" y="1147.40" text-anchor="middle" font-size="44.0" letter-spacing="1.5">35</text><text x="2593.05" y="1147.40" text-anchor="middle" font-size="44.0" letter-spacing="1.5">40</text><text x="3148.28" y="1147.40" text-anchor="middle" font-size="44.0" letter-spacing="1.5">45</text><text x="207.00" y="168.85" text-anchor="end" font-size="44.0" letter-spacing="1.5">0</text><text x="207.00" y="335.47" text-anchor="end" font-size="44.0" letter-spacing="1.5">100</text><text x="207.00" y="502.10" text-anchor="end" font-size="44.0" letter-spacing="1.5">200</text><text x="207.00" y="668.72" text-anchor="end" font-size="44.0" letter-spacing="1.5">300</text><text x="207.00" y="835.35" text-anchor="end" font-size="44.0" letter-spacing="1.5">400</text><text x="207.00" y="1001.97" text-anchor="end" font-size="44.0" letter-spacing="1.5">500</text>
<path clip-path="url(#c2)" d="M386.80 2230.5V2230.26h54.86V2230.5zM441.66 2230.5V2230.26h54.86V2230.5zM496.52 2230.5V2230.26h54.86V2230.5zM551.39 2230.5V2227.38h54.86V2230.5zM606.25 2230.5V2230.26h54.86V2230.5zM661.11 2230.5V2230.26h54.86V2230.5zM715.97 2230.5V2214.68h54.86V2230.5zM770.83 2230.5V2206.05h54.86V2230.5zM825.70 2230.5V2197.90h54.86V2230.5zM880.56 2230.5V2189.28h54.86V2230.5zM935.42 2230.5V2221.87h54.86V2230.5zM990.28 2230.5V2223.79h54.86V2230.5zM1045.14 2230.5V2216.12h54.86V2230.5zM1100.01 2230.5V2130.08h54.86V2230.5zM1154.87 2230.5V2211.09h54.86V2230.5zM1209.73 2230.5V2184.96h54.86V2230.5zM1264.59 2230.5V2164.59h54.86V2230.5zM1319.45 2230.5V2218.28h54.86V2230.5zM1374.32 2230.5V2213.72h54.86V2230.5zM1429.18 2230.5V2216.12h54.86V2230.5zM1484.04 2230.5V2207.97h54.86V2230.5zM1538.90 2230.5V2209.89h54.86V2230.5zM1593.76 2230.5V2183.76h54.86V2230.5zM1648.63 2230.5V2153.32h54.86V2230.5zM1703.49 2230.5V2075.43h54.86V2230.5zM1758.35 2230.5V2026.54h54.86V2230.5zM1813.21 2230.5V2112.82h54.86V2230.5zM1868.07 2230.5V2007.84h54.86V2230.5zM1922.94 2230.5V2085.50h54.86V2230.5zM1977.80 2230.5V1959.67h54.86V2230.5zM2032.66 2230.5V2016.95h54.86V2230.5zM2087.52 2230.5V1973.09h54.86V2230.5zM2142.38 2230.5V1985.07h54.86V2230.5zM2197.25 2230.5V1949.12h54.86V2230.5zM2252.11 2230.5V1301.04h54.86V2230.5zM2306.97 2230.5V1379.17h54.86V2230.5zM2361.83 2230.5V2129.12h54.86V2230.5zM2416.69 2230.5V2096.28h54.86V2230.5zM2471.56 2230.5V2146.85h54.86V2230.5zM2526.42 2230.5V2115.22h54.86V2230.5zM2581.28 2230.5V2179.21h54.86V2230.5zM2636.14 2230.5V2193.11h54.86V2230.5zM2691.00 2230.5V2187.12h54.86V2230.5zM2745.87 2230.5V2197.90h54.86V2230.5zM2800.73 2230.5V2188.08h54.86V2230.5zM2855.59 2230.5V2178.01h54.86V2230.5zM2910.45 2230.5V2197.90h54.86V2230.5zM2965.31 2230.5V2212.28h54.86V2230.5zM3020.18 2230.5V2220.67h54.86V2230.5zM3075.04 2230.5V2215.40h54.86V2230.5zM3129.90 2230.5V2227.14h54.86V2230.5zM3184.76 2230.5V2229.54h54.86V2230.5zM3239.62 2230.5V2229.54h54.86V2230.5zM3294.49 2230.5V2229.54h54.86V2230.5zM3349.35 2230.5V2230.26h54.86V2230.5z" fill="#add8e6" stroke="#000" stroke-width="4.167" stroke-linejoin="miter"/>
<path d="M371.45 2230.5V1254.4M920.20 2230.5V1254.4M1468.95 2230.5V1254.4M2017.70 2230.5V1254.4M2566.45 2230.5V1254.4M3115.20 2230.5V1254.4M236.4 2230.50H3555.4M236.4 2110.66H3555.4M236.4 1990.83H3555.4M236.4 1870.99H3555.4M236.4 1751.15H3555.4M236.4 1631.31H3555.4M236.4 1511.47H3555.4M236.4 1391.64H3555.4M236.4 1271.80H3555.4" stroke="#b0b0b0" stroke-width="2.083" stroke-dasharray="7.71 3.33" fill="none"/>
<path d="M861.26 2230.5V1254.4" stroke="#0000ff" stroke-width="4.167" stroke-dasharray="15.42 6.67" fill="none"/>
<path d="M1578.86 2230.5V1254.4" stroke="#808080" stroke-width="4.167" stroke-dasharray="15.42 6.67" fill="none"/>
<path d="M1818.06 2230.5V1254.4" stroke="#008000" stroke-width="4.167" stroke-dasharray="15.42 6.67" fill="none"/>
<path d="M2092.77 2230.5V1254.4" stroke="#0000ff" stroke-width="4.167" stroke-dasharray="15.42 6.67" fill="none"/>
<path d="M2358.58 2230.5V1254.4" stroke="#ff0000" stroke-width="4.167" stroke-dasharray="15.42 6.67" fill="none"/>
<path d="M2937.73 2230.5V1254.4" stroke="#008000" stroke-width="4.167" stroke-dasharray="15.42 6.67" fill="none"/>
<path d="M3173.04 2230.5V1254.4" stroke="#808080" stroke-width="4.167" stroke-dasharray="15.42 6.67" fill="none"/>
<rect x="236.4" y="1254.4" width="3319.0" height="976.0999999999999" fill="none" stroke="#000" stroke-width="3.333"/>
<path d="M371.45 2230.5v14.58M920.20 2230.5v14.58M1468.95 2230.5v14.58M2017.70 2230.5v14.58M2566.45 2230.5v14.58M3115.20 2230.5v14.58M236.4 2230.50h-14.58M236.4 2110.66h-14.58M236.4 1990.83h-14.58M236.4 1870.99h-14.58M236.4 1751.15h-14.58M236.4 1631.31h-14.58M236.4 1511.47h-14.58M236.4 1391.64h-14.58M236.4 1271.80h-14.58" stroke="#000" stroke-width="3.333" fill="none"/>
<text x="372.20" y="2291.70" text-anchor="middle" font-size="44.0" letter-spacing="1.5">20</text><text x="920.95" y="2291.70" text-anchor="middle" font-size="44.0" letter-spacing="1.5">25</text><text x="1469.70" y="2291.70" text-anchor="middle" font-size="44.0" letter-spacing="1.5">30</text><text x="2018.45" y="2291.70" text-anchor="middle" font-size="44.0" letter-spacing="1.5">35</text><text x="2567.20" y="2291.70" text-anchor="middle" font-size="44.0" letter-spacing="1.5">40</text><text x="3115.95" y="2291.70" text-anchor="middle" font-size="44.0" letter-spacing="1.5">45</text><text x="207.00" y="2245.90" text-anchor="end" font-size="44.0" letter-spacing="1.5">0</text><text x="207.00" y="2126.06" text-anchor="end" font-size="44.0" letter-spacing="1.5">500</text><text x="207.00" y="2006.23" text-anchor="end" font-size="44.0" letter-spacing="1.5">1000</text><text x="207.00" y="1886.39" text-anchor="end" font-size="44.0" letter-spacing="1.5">1500</text><text x="207.00" y="1766.55" text-anchor="end" font-size="44.0" letter-spacing="1.5">2000</text><text x="207.00" y="1646.71" text-anchor="end" font-size="44.0" letter-spacing="1.5">2500</text><text x="207.00" y="1526.88" text-anchor="end" font-size="44.0" letter-spacing="1.5">3000</text><text x="207.00" y="1407.04" text-anchor="end" font-size="44.0" letter-spacing="1.5">3500</text><text x="207.00" y="1287.20" text-anchor="end" font-size="44.0" letter-spacing="1.5">4000</text>
<text x="1853.93" y="1202.30" font-size="41.67">緯度</text><text x="1853.93" y="2347.40" font-size="41.67">緯度</text><text transform="translate(104.00 642.87) rotate(-90)" x="0" y="0" font-size="41.67">深さ</text><text transform="translate(77.70 1787.17) rotate(-90)" x="0" y="0" font-size="41.67">頻度</text><text x="1194.8" y="83.4" font-size="51.5" textLength="286.8" lengthAdjust="spacing">2022-06-01</text><text x="1496.80" y="83.40" font-size="50">から</text><text x="1608.8" y="83.4" font-size="51.5" textLength="286.8" lengthAdjust="spacing">2022-06-30</text><text x="1895.60" y="83.40" font-size="50">の全国地震の緯度と深さの関係</text>
</svg>
</body></html>
